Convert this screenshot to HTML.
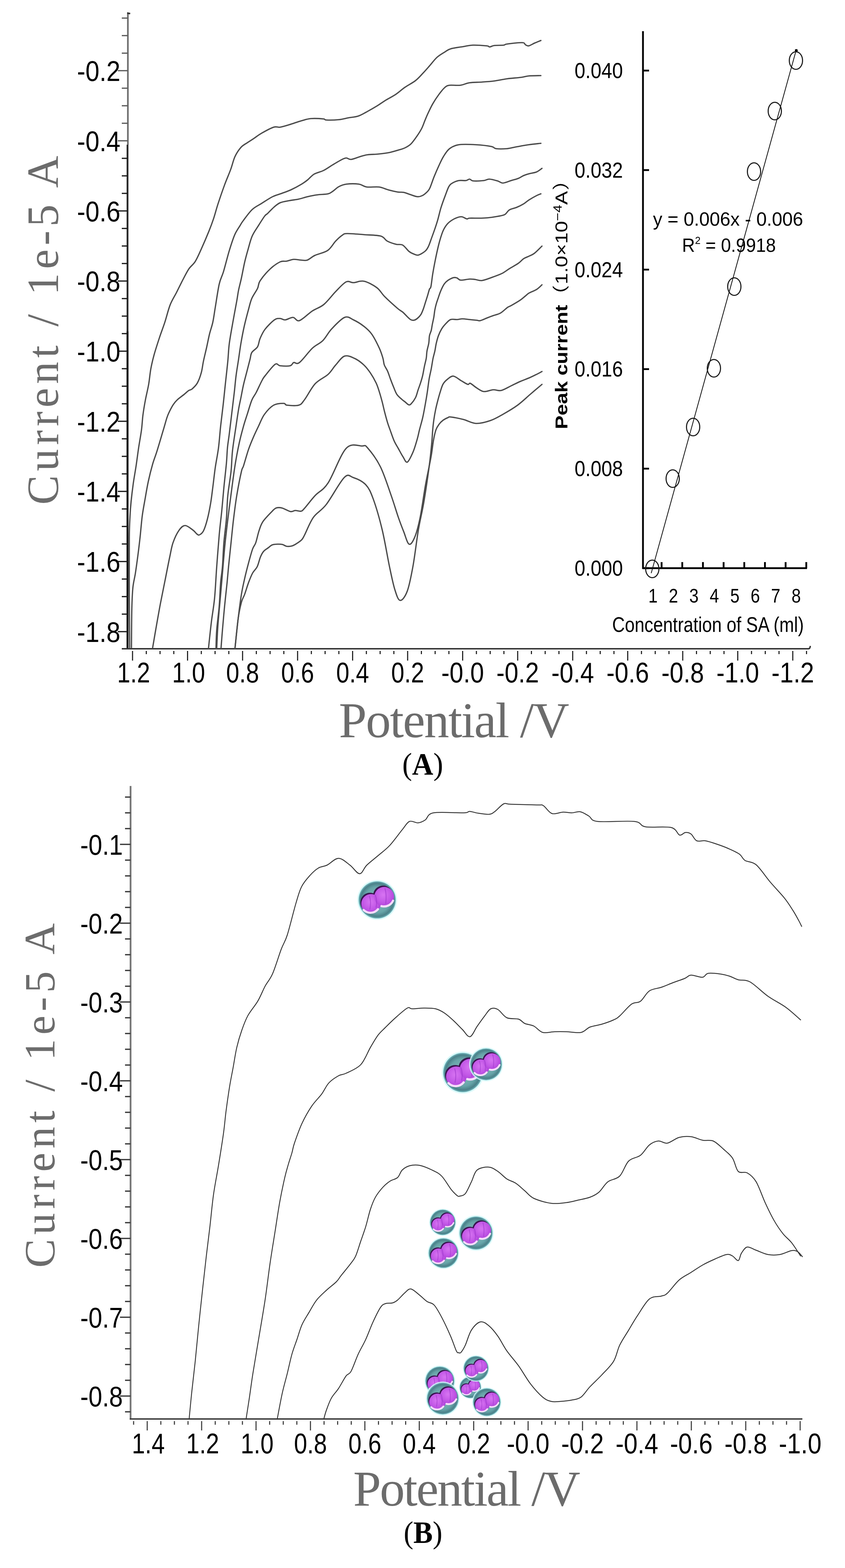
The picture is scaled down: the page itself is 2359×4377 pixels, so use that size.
<!DOCTYPE html>
<html><head><meta charset="utf-8"><title>Figure</title>
<style>html,body{margin:0;padding:0;background:#fff;} svg{display:block;}</style></head>
<body><svg width="2359" height="4377" viewBox="0 0 2359 4377">
<defs>
<radialGradient id="teal" cx="0.5" cy="0.5" r="0.5">
  <stop offset="0" stop-color="#8fc0c0"/><stop offset="0.7" stop-color="#66a4a8"/><stop offset="0.9" stop-color="#4a8088"/><stop offset="1" stop-color="#6fb6bc"/>
</radialGradient>
<radialGradient id="purp" cx="0.45" cy="0.4" r="0.65">
  <stop offset="0" stop-color="#d774f2"/><stop offset="0.6" stop-color="#c257e6"/><stop offset="1" stop-color="#ab40d6"/>
</radialGradient>
<g id="cell">
  <circle r="103" fill="#d2f8f8" opacity="0.85"/>
  <circle r="96" fill="url(#teal)"/>
  <g fill="#3a1450">
    <circle cx="-37" cy="13" r="50"/><circle cx="30" cy="-23" r="51"/>
  </g>
  <g fill="url(#purp)">
    <circle cx="-32" cy="20" r="50"/><circle cx="36" cy="-16" r="51"/>
  </g>
  <g fill="none" stroke="#f8dcfc" stroke-width="11" stroke-linecap="round">
    <path d="M -70 52 A 50 50 0 0 0 4 48"/>
    <path d="M 22 32 A 51 51 0 0 0 82 4"/>
  </g>
  <g fill="none" stroke="#9a34c8" stroke-width="5" opacity="0.55">
    <path d="M -10 -26 Q 2 4 -6 40"/><path d="M -40 -20 Q -30 10 -38 50"/><path d="M 40 -60 Q 50 -28 44 20"/>
  </g>
</g>
</defs>
<rect width="2359" height="4377" fill="#fff"/>
<line x1="357" y1="36" x2="357" y2="404" stroke="#6e6e6e" stroke-width="4.6"/>
<path d="M355,34 L364,36 L363,40 L355,39 Z" fill="#333"/>
<line x1="356" y1="404" x2="356" y2="925" stroke="#262626" stroke-width="5"/>
<line x1="356" y1="925" x2="356" y2="1812" stroke="#111" stroke-width="5.5"/>
<line x1="340" y1="50.5" x2="356.5" y2="50.5" stroke="#5a5a5a" stroke-width="3.4"/>
<line x1="340" y1="99.4" x2="356.5" y2="99.4" stroke="#5a5a5a" stroke-width="3.4"/>
<line x1="340" y1="148.4" x2="356.5" y2="148.4" stroke="#5a5a5a" stroke-width="3.4"/>
<line x1="329" y1="197.3" x2="356.5" y2="197.3" stroke="#5a5a5a" stroke-width="3.4"/>
<line x1="340" y1="246.2" x2="356.5" y2="246.2" stroke="#5a5a5a" stroke-width="3.4"/>
<line x1="340" y1="295.2" x2="356.5" y2="295.2" stroke="#5a5a5a" stroke-width="3.4"/>
<line x1="340" y1="344.1" x2="356.5" y2="344.1" stroke="#5a5a5a" stroke-width="3.4"/>
<line x1="329" y1="393.0" x2="356.5" y2="393.0" stroke="#5a5a5a" stroke-width="3.4"/>
<line x1="340" y1="442.0" x2="356.5" y2="442.0" stroke="#1a1a1a" stroke-width="3.4"/>
<line x1="340" y1="490.9" x2="356.5" y2="490.9" stroke="#1a1a1a" stroke-width="3.4"/>
<line x1="340" y1="539.8" x2="356.5" y2="539.8" stroke="#1a1a1a" stroke-width="3.4"/>
<line x1="329" y1="588.8" x2="356.5" y2="588.8" stroke="#1a1a1a" stroke-width="3.4"/>
<line x1="340" y1="637.7" x2="356.5" y2="637.7" stroke="#1a1a1a" stroke-width="3.4"/>
<line x1="340" y1="686.7" x2="356.5" y2="686.7" stroke="#1a1a1a" stroke-width="3.4"/>
<line x1="340" y1="735.6" x2="356.5" y2="735.6" stroke="#1a1a1a" stroke-width="3.4"/>
<line x1="329" y1="784.5" x2="356.5" y2="784.5" stroke="#1a1a1a" stroke-width="3.4"/>
<line x1="340" y1="833.5" x2="356.5" y2="833.5" stroke="#1a1a1a" stroke-width="3.4"/>
<line x1="340" y1="882.4" x2="356.5" y2="882.4" stroke="#1a1a1a" stroke-width="3.4"/>
<line x1="340" y1="931.3" x2="356.5" y2="931.3" stroke="#1a1a1a" stroke-width="3.4"/>
<line x1="329" y1="980.3" x2="356.5" y2="980.3" stroke="#1a1a1a" stroke-width="3.4"/>
<line x1="340" y1="1029.2" x2="356.5" y2="1029.2" stroke="#1a1a1a" stroke-width="3.4"/>
<line x1="340" y1="1078.1" x2="356.5" y2="1078.1" stroke="#1a1a1a" stroke-width="3.4"/>
<line x1="340" y1="1127.1" x2="356.5" y2="1127.1" stroke="#1a1a1a" stroke-width="3.4"/>
<line x1="329" y1="1176.0" x2="356.5" y2="1176.0" stroke="#1a1a1a" stroke-width="3.4"/>
<line x1="340" y1="1224.9" x2="356.5" y2="1224.9" stroke="#1a1a1a" stroke-width="3.4"/>
<line x1="340" y1="1273.9" x2="356.5" y2="1273.9" stroke="#1a1a1a" stroke-width="3.4"/>
<line x1="340" y1="1322.8" x2="356.5" y2="1322.8" stroke="#1a1a1a" stroke-width="3.4"/>
<line x1="329" y1="1371.7" x2="356.5" y2="1371.7" stroke="#1a1a1a" stroke-width="3.4"/>
<line x1="340" y1="1420.7" x2="356.5" y2="1420.7" stroke="#1a1a1a" stroke-width="3.4"/>
<line x1="340" y1="1469.6" x2="356.5" y2="1469.6" stroke="#1a1a1a" stroke-width="3.4"/>
<line x1="340" y1="1518.5" x2="356.5" y2="1518.5" stroke="#1a1a1a" stroke-width="3.4"/>
<line x1="329" y1="1567.5" x2="356.5" y2="1567.5" stroke="#1a1a1a" stroke-width="3.4"/>
<line x1="340" y1="1616.4" x2="356.5" y2="1616.4" stroke="#1a1a1a" stroke-width="3.4"/>
<line x1="340" y1="1665.4" x2="356.5" y2="1665.4" stroke="#1a1a1a" stroke-width="3.4"/>
<line x1="340" y1="1714.3" x2="356.5" y2="1714.3" stroke="#1a1a1a" stroke-width="3.4"/>
<line x1="329" y1="1763.2" x2="356.5" y2="1763.2" stroke="#1a1a1a" stroke-width="3.4"/>
<text x="215.0" y="226.0" font-family="'Liberation Sans', Arial, sans-serif" font-size="80" font-weight="normal" fill="#000" text-anchor="start" textLength="121.0" lengthAdjust="spacingAndGlyphs" >-0.2</text>
<text x="215.0" y="421.7" font-family="'Liberation Sans', Arial, sans-serif" font-size="80" font-weight="normal" fill="#000" text-anchor="start" textLength="121.0" lengthAdjust="spacingAndGlyphs" >-0.4</text>
<text x="215.0" y="617.5" font-family="'Liberation Sans', Arial, sans-serif" font-size="80" font-weight="normal" fill="#000" text-anchor="start" textLength="121.0" lengthAdjust="spacingAndGlyphs" >-0.6</text>
<text x="215.0" y="813.2" font-family="'Liberation Sans', Arial, sans-serif" font-size="80" font-weight="normal" fill="#000" text-anchor="start" textLength="121.0" lengthAdjust="spacingAndGlyphs" >-0.8</text>
<text x="215.0" y="1009.0" font-family="'Liberation Sans', Arial, sans-serif" font-size="80" font-weight="normal" fill="#000" text-anchor="start" textLength="121.0" lengthAdjust="spacingAndGlyphs" >-1.0</text>
<text x="215.0" y="1204.7" font-family="'Liberation Sans', Arial, sans-serif" font-size="80" font-weight="normal" fill="#000" text-anchor="start" textLength="121.0" lengthAdjust="spacingAndGlyphs" >-1.2</text>
<text x="215.0" y="1400.4" font-family="'Liberation Sans', Arial, sans-serif" font-size="80" font-weight="normal" fill="#000" text-anchor="start" textLength="121.0" lengthAdjust="spacingAndGlyphs" >-1.4</text>
<text x="215.0" y="1596.2" font-family="'Liberation Sans', Arial, sans-serif" font-size="80" font-weight="normal" fill="#000" text-anchor="start" textLength="121.0" lengthAdjust="spacingAndGlyphs" >-1.6</text>
<text x="215.0" y="1791.9" font-family="'Liberation Sans', Arial, sans-serif" font-size="80" font-weight="normal" fill="#000" text-anchor="start" textLength="121.0" lengthAdjust="spacingAndGlyphs" >-1.8</text>
<line x1="340" y1="1811" x2="2258" y2="1811" stroke="#333" stroke-width="4"/>
<path d="M2256,1811 Q2262,1811 2262,1803" fill="none" stroke="#333" stroke-width="4"/>
<line x1="370.0" y1="1817" x2="370.0" y2="1844" stroke="#1a1a1a" stroke-width="3"/>
<line x1="408.4" y1="1817" x2="408.4" y2="1826" stroke="#1a1a1a" stroke-width="3"/>
<line x1="446.8" y1="1817" x2="446.8" y2="1826" stroke="#1a1a1a" stroke-width="3"/>
<line x1="485.2" y1="1817" x2="485.2" y2="1826" stroke="#1a1a1a" stroke-width="3"/>
<line x1="523.6" y1="1817" x2="523.6" y2="1844" stroke="#1a1a1a" stroke-width="3"/>
<line x1="562.0" y1="1817" x2="562.0" y2="1826" stroke="#1a1a1a" stroke-width="3"/>
<line x1="600.4" y1="1817" x2="600.4" y2="1826" stroke="#1a1a1a" stroke-width="3"/>
<line x1="638.8" y1="1817" x2="638.8" y2="1826" stroke="#1a1a1a" stroke-width="3"/>
<line x1="677.2" y1="1817" x2="677.2" y2="1844" stroke="#1a1a1a" stroke-width="3"/>
<line x1="715.6" y1="1817" x2="715.6" y2="1826" stroke="#1a1a1a" stroke-width="3"/>
<line x1="754.0" y1="1817" x2="754.0" y2="1826" stroke="#1a1a1a" stroke-width="3"/>
<line x1="792.4" y1="1817" x2="792.4" y2="1826" stroke="#1a1a1a" stroke-width="3"/>
<line x1="830.8" y1="1817" x2="830.8" y2="1844" stroke="#1a1a1a" stroke-width="3"/>
<line x1="869.2" y1="1817" x2="869.2" y2="1826" stroke="#1a1a1a" stroke-width="3"/>
<line x1="907.6" y1="1817" x2="907.6" y2="1826" stroke="#1a1a1a" stroke-width="3"/>
<line x1="946.0" y1="1817" x2="946.0" y2="1826" stroke="#1a1a1a" stroke-width="3"/>
<line x1="984.4" y1="1817" x2="984.4" y2="1844" stroke="#1a1a1a" stroke-width="3"/>
<line x1="1022.8" y1="1817" x2="1022.8" y2="1826" stroke="#1a1a1a" stroke-width="3"/>
<line x1="1061.2" y1="1817" x2="1061.2" y2="1826" stroke="#1a1a1a" stroke-width="3"/>
<line x1="1099.6" y1="1817" x2="1099.6" y2="1826" stroke="#1a1a1a" stroke-width="3"/>
<line x1="1138.0" y1="1817" x2="1138.0" y2="1844" stroke="#1a1a1a" stroke-width="3"/>
<line x1="1176.4" y1="1817" x2="1176.4" y2="1826" stroke="#1a1a1a" stroke-width="3"/>
<line x1="1214.8" y1="1817" x2="1214.8" y2="1826" stroke="#1a1a1a" stroke-width="3"/>
<line x1="1253.2" y1="1817" x2="1253.2" y2="1826" stroke="#1a1a1a" stroke-width="3"/>
<line x1="1291.6" y1="1817" x2="1291.6" y2="1844" stroke="#1a1a1a" stroke-width="3"/>
<line x1="1330.0" y1="1817" x2="1330.0" y2="1826" stroke="#1a1a1a" stroke-width="3"/>
<line x1="1368.4" y1="1817" x2="1368.4" y2="1826" stroke="#1a1a1a" stroke-width="3"/>
<line x1="1406.8" y1="1817" x2="1406.8" y2="1826" stroke="#1a1a1a" stroke-width="3"/>
<line x1="1445.2" y1="1817" x2="1445.2" y2="1844" stroke="#1a1a1a" stroke-width="3"/>
<line x1="1483.6" y1="1817" x2="1483.6" y2="1826" stroke="#1a1a1a" stroke-width="3"/>
<line x1="1522.0" y1="1817" x2="1522.0" y2="1826" stroke="#1a1a1a" stroke-width="3"/>
<line x1="1560.4" y1="1817" x2="1560.4" y2="1826" stroke="#1a1a1a" stroke-width="3"/>
<line x1="1598.8" y1="1817" x2="1598.8" y2="1844" stroke="#1a1a1a" stroke-width="3"/>
<line x1="1637.2" y1="1817" x2="1637.2" y2="1826" stroke="#1a1a1a" stroke-width="3"/>
<line x1="1675.6" y1="1817" x2="1675.6" y2="1826" stroke="#1a1a1a" stroke-width="3"/>
<line x1="1714.0" y1="1817" x2="1714.0" y2="1826" stroke="#1a1a1a" stroke-width="3"/>
<line x1="1752.4" y1="1817" x2="1752.4" y2="1844" stroke="#1a1a1a" stroke-width="3"/>
<line x1="1790.8" y1="1817" x2="1790.8" y2="1826" stroke="#1a1a1a" stroke-width="3"/>
<line x1="1829.2" y1="1817" x2="1829.2" y2="1826" stroke="#1a1a1a" stroke-width="3"/>
<line x1="1867.6" y1="1817" x2="1867.6" y2="1826" stroke="#1a1a1a" stroke-width="3"/>
<line x1="1906.0" y1="1817" x2="1906.0" y2="1844" stroke="#1a1a1a" stroke-width="3"/>
<line x1="1944.4" y1="1817" x2="1944.4" y2="1826" stroke="#1a1a1a" stroke-width="3"/>
<line x1="1982.8" y1="1817" x2="1982.8" y2="1826" stroke="#1a1a1a" stroke-width="3"/>
<line x1="2021.2" y1="1817" x2="2021.2" y2="1826" stroke="#1a1a1a" stroke-width="3"/>
<line x1="2059.6" y1="1817" x2="2059.6" y2="1844" stroke="#1a1a1a" stroke-width="3"/>
<line x1="2098.0" y1="1817" x2="2098.0" y2="1826" stroke="#1a1a1a" stroke-width="3"/>
<line x1="2136.4" y1="1817" x2="2136.4" y2="1826" stroke="#1a1a1a" stroke-width="3"/>
<line x1="2174.8" y1="1817" x2="2174.8" y2="1826" stroke="#1a1a1a" stroke-width="3"/>
<line x1="2213.2" y1="1817" x2="2213.2" y2="1844" stroke="#1a1a1a" stroke-width="3"/>
<line x1="2251.6" y1="1817" x2="2251.6" y2="1826" stroke="#1a1a1a" stroke-width="3"/>
<text x="327.0" y="1905.0" font-family="'Liberation Sans', Arial, sans-serif" font-size="80" font-weight="normal" fill="#000" text-anchor="start" textLength="92.0" lengthAdjust="spacingAndGlyphs" >1.2</text>
<text x="480.6" y="1905.0" font-family="'Liberation Sans', Arial, sans-serif" font-size="80" font-weight="normal" fill="#000" text-anchor="start" textLength="92.0" lengthAdjust="spacingAndGlyphs" >1.0</text>
<text x="631.2" y="1905.0" font-family="'Liberation Sans', Arial, sans-serif" font-size="80" font-weight="normal" fill="#000" text-anchor="start" textLength="92.0" lengthAdjust="spacingAndGlyphs" >0.8</text>
<text x="784.8" y="1905.0" font-family="'Liberation Sans', Arial, sans-serif" font-size="80" font-weight="normal" fill="#000" text-anchor="start" textLength="92.0" lengthAdjust="spacingAndGlyphs" >0.6</text>
<text x="938.4" y="1905.0" font-family="'Liberation Sans', Arial, sans-serif" font-size="80" font-weight="normal" fill="#000" text-anchor="start" textLength="92.0" lengthAdjust="spacingAndGlyphs" >0.4</text>
<text x="1092.0" y="1905.0" font-family="'Liberation Sans', Arial, sans-serif" font-size="80" font-weight="normal" fill="#000" text-anchor="start" textLength="92.0" lengthAdjust="spacingAndGlyphs" >0.2</text>
<text x="1232.1" y="1905.0" font-family="'Liberation Sans', Arial, sans-serif" font-size="80" font-weight="normal" fill="#000" text-anchor="start" textLength="119.0" lengthAdjust="spacingAndGlyphs" >-0.0</text>
<text x="1385.7" y="1905.0" font-family="'Liberation Sans', Arial, sans-serif" font-size="80" font-weight="normal" fill="#000" text-anchor="start" textLength="119.0" lengthAdjust="spacingAndGlyphs" >-0.2</text>
<text x="1539.3" y="1905.0" font-family="'Liberation Sans', Arial, sans-serif" font-size="80" font-weight="normal" fill="#000" text-anchor="start" textLength="119.0" lengthAdjust="spacingAndGlyphs" >-0.4</text>
<text x="1692.9" y="1905.0" font-family="'Liberation Sans', Arial, sans-serif" font-size="80" font-weight="normal" fill="#000" text-anchor="start" textLength="119.0" lengthAdjust="spacingAndGlyphs" >-0.6</text>
<text x="1846.5" y="1905.0" font-family="'Liberation Sans', Arial, sans-serif" font-size="80" font-weight="normal" fill="#000" text-anchor="start" textLength="119.0" lengthAdjust="spacingAndGlyphs" >-0.8</text>
<text x="2000.1" y="1905.0" font-family="'Liberation Sans', Arial, sans-serif" font-size="80" font-weight="normal" fill="#000" text-anchor="start" textLength="119.0" lengthAdjust="spacingAndGlyphs" >-1.0</text>
<text x="2153.7" y="1905.0" font-family="'Liberation Sans', Arial, sans-serif" font-size="80" font-weight="normal" fill="#000" text-anchor="start" textLength="119.0" lengthAdjust="spacingAndGlyphs" >-1.2</text>
<text x="946.0" y="2058.0" font-family="'Liberation Serif', 'Times New Roman', serif" font-size="140" font-weight="normal" fill="#6c6c6c" text-anchor="start" textLength="643.0" lengthAdjust="spacing" >Potential /V</text>
<text transform="translate(162,1409) rotate(-90)" x="0" y="0" font-family="'Liberation Serif', 'Times New Roman', serif" font-size="124" fill="#6c6c6c" textLength="974" lengthAdjust="spacing">Current / 1e-5 A</text>
<text x="1123" y="2162" font-family="'Liberation Serif', 'Times New Roman', serif" font-size="86" fill="#000" textLength="114" lengthAdjust="spacingAndGlyphs">(<tspan font-weight="bold">A</tspan>)</text>
<path d="M362.0,1808.0 C361.8,1781.7 361.2,1701.3 361.0,1650.0 C360.8,1598.7 360.7,1535.0 361.0,1500.0 C361.3,1465.0 362.2,1456.7 363.0,1440.0 C363.8,1423.3 364.5,1415.0 366.0,1400.0 C367.5,1385.0 369.7,1366.7 372.0,1350.0 C374.3,1333.3 377.5,1316.7 380.0,1300.0 C382.5,1283.3 384.5,1266.7 387.0,1250.0 C389.5,1233.3 393.0,1215.2 395.0,1200.0 C397.0,1184.8 397.2,1173.0 399.0,1159.0 C400.8,1145.0 403.3,1130.3 406.0,1116.0 C408.7,1101.7 412.5,1087.3 415.0,1073.0 C417.5,1058.7 418.5,1043.7 421.0,1030.0 C423.5,1016.3 426.0,1005.5 430.0,991.0 C434.0,976.5 440.0,958.2 445.0,943.0 C450.0,927.8 455.0,915.3 460.0,900.0 C465.0,884.7 469.5,865.0 475.0,851.0 C480.5,837.0 487.2,827.5 493.0,816.0 C498.8,804.5 504.3,792.8 510.0,782.0 C515.7,771.2 521.2,759.7 527.0,751.0 C532.8,742.3 539.2,739.3 545.0,730.0 C550.8,720.7 555.7,709.0 562.0,695.0 C568.3,681.0 577.3,660.0 583.0,646.0 C588.7,632.0 591.7,624.0 596.0,611.0 C600.3,598.0 603.8,583.8 609.0,568.0 C614.2,552.2 621.2,531.8 627.0,516.0 C632.8,500.2 639.2,486.2 644.0,473.0 C648.8,459.8 651.2,447.3 656.0,437.0 C660.8,426.7 667.2,417.5 673.0,411.0 C678.8,404.5 685.2,402.0 691.0,398.0 C696.8,394.0 701.5,391.3 708.0,387.0 C714.5,382.7 720.7,377.3 730.0,372.0 C739.3,366.7 755.3,357.8 764.0,355.0 C772.7,352.2 774.7,356.2 782.0,355.0 C789.3,353.8 798.0,351.0 808.0,348.0 C818.0,345.0 832.0,339.8 842.0,337.0 C852.0,334.2 857.8,331.8 868.0,331.0 C878.2,330.2 895.8,331.3 903.0,332.0 C910.2,332.7 903.8,334.7 911.0,335.0 C918.2,335.3 935.8,335.0 946.0,334.0 C956.2,333.0 963.0,330.7 972.0,329.0 C981.0,327.3 991.0,327.0 1000.0,324.0 C1009.0,321.0 1017.3,315.7 1026.0,311.0 C1034.7,306.3 1043.3,301.3 1052.0,296.0 C1060.7,290.7 1069.3,284.3 1078.0,279.0 C1086.7,273.7 1095.3,269.8 1104.0,264.0 C1112.7,258.2 1120.7,250.5 1130.0,244.0 C1139.3,237.5 1151.3,231.8 1160.0,225.0 C1168.7,218.2 1175.5,209.8 1182.0,203.0 C1188.5,196.2 1192.7,191.2 1199.0,184.0 C1205.3,176.8 1212.8,166.5 1220.0,160.0 C1227.2,153.5 1235.5,149.0 1242.0,145.0 C1248.5,141.0 1250.3,138.5 1259.0,136.0 C1267.7,133.5 1283.8,131.7 1294.0,130.0 C1304.2,128.3 1309.2,126.3 1320.0,126.0 C1330.8,125.7 1351.2,127.2 1359.0,128.0 C1366.8,128.8 1363.5,131.2 1367.0,131.0 C1370.5,130.8 1373.5,127.8 1380.0,127.0 C1386.5,126.2 1400.2,126.7 1406.0,126.0 C1411.8,125.3 1406.3,124.2 1415.0,123.0 C1423.7,121.8 1449.3,118.7 1458.0,119.0 C1466.7,119.3 1464.0,123.5 1467.0,125.0 C1470.0,126.5 1471.7,128.8 1476.0,128.0 C1480.3,127.2 1487.3,122.5 1493.0,120.0 C1498.7,117.5 1507.2,114.2 1510.0,113.0" fill="none" stroke="#4a4a4a" stroke-width="3.6" stroke-linejoin="round" stroke-linecap="round"/>
<path d="M367.0,1808.0 C367.2,1790.0 367.3,1728.0 368.0,1700.0 C368.7,1672.0 369.3,1656.7 371.0,1640.0 C372.7,1623.3 375.7,1615.0 378.0,1600.0 C380.3,1585.0 382.8,1566.7 385.0,1550.0 C387.2,1533.3 389.0,1518.2 391.0,1500.0 C393.0,1481.8 394.7,1458.8 397.0,1441.0 C399.3,1423.2 402.2,1409.2 405.0,1393.0 C407.8,1376.8 410.5,1360.2 414.0,1344.0 C417.5,1327.8 422.0,1310.0 426.0,1296.0 C430.0,1282.0 433.0,1276.0 438.0,1260.0 C443.0,1244.0 451.3,1215.7 456.0,1200.0 C460.7,1184.3 463.2,1174.5 466.0,1166.0 C468.8,1157.5 470.0,1155.2 473.0,1149.0 C476.0,1142.8 480.3,1134.5 484.0,1129.0 C487.7,1123.5 490.0,1120.7 495.0,1116.0 C500.0,1111.3 508.7,1105.3 514.0,1101.0 C519.3,1096.7 523.3,1092.5 527.0,1090.0 C530.7,1087.5 532.0,1089.5 536.0,1086.0 C540.0,1082.5 546.7,1076.7 551.0,1069.0 C555.3,1061.3 559.2,1050.2 562.0,1040.0 C564.8,1029.8 565.5,1019.8 568.0,1008.0 C570.5,996.2 574.2,981.7 577.0,969.0 C579.8,956.3 582.2,943.5 585.0,932.0 C587.8,920.5 591.3,912.3 594.0,900.0 C596.7,887.7 598.0,875.8 601.0,858.0 C604.0,840.2 608.2,809.7 612.0,793.0 C615.8,776.3 619.3,773.5 624.0,758.0 C628.7,742.5 634.8,717.0 640.0,700.0 C645.2,683.0 650.0,667.7 655.0,656.0 C660.0,644.3 666.0,636.7 670.0,630.0 C674.0,623.3 673.3,623.5 679.0,616.0 C684.7,608.5 695.5,593.0 704.0,585.0 C712.5,577.0 720.5,574.0 730.0,568.0 C739.5,562.0 751.7,553.7 761.0,549.0 C770.3,544.3 777.5,543.2 786.0,540.0 C794.5,536.8 802.7,534.3 812.0,530.0 C821.3,525.7 834.2,518.7 842.0,514.0 C849.8,509.3 853.2,506.7 859.0,502.0 C864.8,497.3 869.7,490.3 877.0,486.0 C884.3,481.7 894.3,480.3 903.0,476.0 C911.7,471.7 920.3,465.2 929.0,460.0 C937.7,454.8 948.7,448.2 955.0,445.0 C961.3,441.8 962.8,441.0 967.0,441.0 C971.2,441.0 973.5,445.7 980.0,445.0 C986.5,444.3 998.3,439.2 1006.0,437.0 C1013.7,434.8 1017.7,433.2 1026.0,432.0 C1034.3,430.8 1046.0,431.0 1056.0,430.0 C1066.0,429.0 1076.7,427.8 1086.0,426.0 C1095.3,424.2 1104.7,421.2 1112.0,419.0 C1119.3,416.8 1124.2,415.8 1130.0,413.0 C1135.8,410.2 1141.3,407.5 1147.0,402.0 C1152.7,396.5 1159.0,387.2 1164.0,380.0 C1169.0,372.8 1173.3,366.2 1177.0,359.0 C1180.7,351.8 1183.0,344.2 1186.0,337.0 C1189.0,329.8 1191.3,323.8 1195.0,316.0 C1198.7,308.2 1203.0,298.7 1208.0,290.0 C1213.0,281.3 1219.3,271.7 1225.0,264.0 C1230.7,256.3 1237.0,248.3 1242.0,244.0 C1247.0,239.7 1247.8,239.0 1255.0,238.0 C1262.2,237.0 1275.7,239.2 1285.0,238.0 C1294.3,236.8 1300.8,232.5 1311.0,231.0 C1321.2,229.5 1334.5,229.8 1346.0,229.0 C1357.5,228.2 1368.5,227.5 1380.0,226.0 C1391.5,224.5 1402.7,221.7 1415.0,220.0 C1427.3,218.3 1443.8,217.3 1454.0,216.0 C1464.2,214.7 1466.7,212.8 1476.0,212.0 C1485.3,211.2 1504.3,211.2 1510.0,211.0" fill="none" stroke="#4a4a4a" stroke-width="3.6" stroke-linejoin="round" stroke-linecap="round"/>
<path d="M426.0,1809.0 C427.8,1798.3 433.3,1765.8 437.0,1745.0 C440.7,1724.2 444.0,1705.0 448.0,1684.0 C452.0,1663.0 456.7,1640.7 461.0,1619.0 C465.3,1597.3 470.3,1571.3 474.0,1554.0 C477.7,1536.7 478.7,1527.3 483.0,1515.0 C487.3,1502.7 494.3,1488.0 500.0,1480.0 C505.7,1472.0 510.5,1467.0 517.0,1467.0 C523.5,1467.0 533.5,1476.0 539.0,1480.0 C544.5,1484.0 547.0,1488.8 550.0,1491.0 C553.0,1493.2 554.0,1494.5 557.0,1493.0 C560.0,1491.5 564.3,1489.3 568.0,1482.0 C571.7,1474.7 575.7,1461.8 579.0,1449.0 C582.3,1436.2 585.5,1419.7 588.0,1405.0 C590.5,1390.3 591.8,1377.7 594.0,1361.0 C596.2,1344.3 598.3,1323.5 601.0,1305.0 C603.7,1286.5 607.5,1269.3 610.0,1250.0 C612.5,1230.7 613.8,1209.0 616.0,1189.0 C618.2,1169.0 620.8,1149.3 623.0,1130.0 C625.2,1110.7 626.8,1093.3 629.0,1073.0 C631.2,1052.7 634.2,1026.8 636.0,1008.0 C637.8,989.2 637.7,978.0 640.0,960.0 C642.3,942.0 646.5,920.0 650.0,900.0 C653.5,880.0 658.3,855.0 661.0,840.0 C663.7,825.0 663.8,820.7 666.0,810.0 C668.2,799.3 671.2,789.0 674.0,776.0 C676.8,763.0 680.0,745.0 683.0,732.0 C686.0,719.0 688.5,710.2 692.0,698.0 C695.5,685.8 699.0,670.5 704.0,659.0 C709.0,647.5 716.2,638.3 722.0,629.0 C727.8,619.7 734.8,608.5 739.0,603.0 C743.2,597.5 742.8,600.0 747.0,596.0 C751.2,592.0 758.2,584.0 764.0,579.0 C769.8,574.0 774.7,569.2 782.0,566.0 C789.3,562.8 799.5,561.7 808.0,560.0 C816.5,558.3 824.5,557.8 833.0,556.0 C841.5,554.2 850.3,551.0 859.0,549.0 C867.7,547.0 875.5,545.3 885.0,544.0 C894.5,542.7 908.7,542.7 916.0,541.0 C923.3,539.3 924.0,537.3 929.0,534.0 C934.0,530.7 939.7,524.3 946.0,521.0 C952.3,517.7 957.7,515.2 967.0,514.0 C976.3,512.8 992.5,512.7 1002.0,514.0 C1011.5,515.3 1014.7,520.7 1024.0,522.0 C1033.3,523.3 1048.0,520.7 1058.0,522.0 C1068.0,523.3 1075.3,527.7 1084.0,530.0 C1092.7,532.3 1102.8,534.8 1110.0,536.0 C1117.2,537.2 1121.2,535.8 1127.0,537.0 C1132.8,538.2 1138.7,541.0 1145.0,543.0 C1151.3,545.0 1159.3,548.5 1165.0,549.0 C1170.7,549.5 1174.5,548.2 1179.0,546.0 C1183.5,543.8 1188.5,539.5 1192.0,536.0 C1195.5,532.5 1196.7,532.2 1200.0,525.0 C1203.3,517.8 1207.8,503.3 1212.0,493.0 C1216.2,482.7 1220.7,472.3 1225.0,463.0 C1229.3,453.7 1233.0,445.0 1238.0,437.0 C1243.0,429.0 1247.8,420.5 1255.0,415.0 C1262.2,409.5 1268.7,405.8 1281.0,404.0 C1293.3,402.2 1313.8,403.2 1329.0,404.0 C1344.2,404.8 1362.7,407.2 1372.0,409.0 C1381.3,410.8 1377.8,414.0 1385.0,415.0 C1392.2,416.0 1405.7,415.8 1415.0,415.0 C1424.3,414.2 1430.8,411.8 1441.0,410.0 C1451.2,408.2 1464.5,405.7 1476.0,404.0 C1487.5,402.3 1504.3,400.7 1510.0,400.0" fill="none" stroke="#4a4a4a" stroke-width="3.6" stroke-linejoin="round" stroke-linecap="round"/>
<path d="M582.0,1810.0 C583.3,1797.8 587.2,1760.3 590.0,1737.0 C592.8,1713.7 596.5,1695.8 599.0,1670.0 C601.5,1644.2 602.8,1611.5 605.0,1582.0 C607.2,1552.5 609.7,1518.8 612.0,1493.0 C614.3,1467.2 616.8,1449.0 619.0,1427.0 C621.2,1405.0 622.8,1383.2 625.0,1361.0 C627.2,1338.8 630.3,1312.5 632.0,1294.0 C633.7,1275.5 633.7,1263.7 635.0,1250.0 C636.3,1236.3 638.0,1228.0 640.0,1212.0 C642.0,1196.0 644.7,1173.3 647.0,1154.0 C649.3,1134.7 652.0,1113.5 654.0,1096.0 C656.0,1078.5 657.0,1064.5 659.0,1049.0 C661.0,1033.5 663.7,1018.5 666.0,1003.0 C668.3,987.5 670.3,971.5 673.0,956.0 C675.7,940.5 678.5,925.5 682.0,910.0 C685.5,894.5 690.5,875.8 694.0,863.0 C697.5,850.2 698.8,842.7 703.0,833.0 C707.2,823.3 715.2,813.2 719.0,805.0 C722.8,796.8 720.2,793.0 726.0,784.0 C731.8,775.0 744.7,759.8 754.0,751.0 C763.3,742.2 774.3,734.7 782.0,731.0 C789.7,727.3 793.7,730.2 800.0,729.0 C806.3,727.8 813.3,724.5 820.0,724.0 C826.7,723.5 833.7,725.7 840.0,726.0 C846.3,726.3 851.5,728.2 858.0,726.0 C864.5,723.8 869.5,717.5 879.0,713.0 C888.5,708.5 905.3,705.7 915.0,699.0 C924.7,692.3 930.3,680.0 937.0,673.0 C943.7,666.0 949.7,660.5 955.0,657.0 C960.3,653.5 958.8,652.3 969.0,652.0 C979.2,651.7 1000.3,653.8 1016.0,655.0 C1031.7,656.2 1052.2,656.0 1063.0,659.0 C1073.8,662.0 1073.8,669.2 1081.0,673.0 C1088.2,676.8 1098.8,680.2 1106.0,682.0 C1113.2,683.8 1118.0,680.7 1124.0,684.0 C1130.0,687.3 1136.8,697.8 1142.0,702.0 C1147.2,706.2 1150.7,707.3 1155.0,709.0 C1159.3,710.7 1162.7,713.3 1168.0,712.0 C1173.3,710.7 1182.3,705.0 1187.0,701.0 C1191.7,697.0 1193.0,694.2 1196.0,688.0 C1199.0,681.8 1201.8,672.7 1205.0,664.0 C1208.2,655.3 1212.2,644.3 1215.0,636.0 C1217.8,627.7 1219.3,623.3 1222.0,614.0 C1224.7,604.7 1227.5,591.3 1231.0,580.0 C1234.5,568.7 1239.3,555.8 1243.0,546.0 C1246.7,536.2 1249.7,526.8 1253.0,521.0 C1256.3,515.2 1258.3,513.8 1263.0,511.0 C1267.7,508.2 1274.7,505.2 1281.0,504.0 C1287.3,502.8 1296.0,504.7 1301.0,504.0 C1306.0,503.3 1307.7,499.8 1311.0,500.0 C1314.3,500.2 1314.3,504.3 1321.0,505.0 C1327.7,505.7 1343.5,504.8 1351.0,504.0 C1358.5,503.2 1359.7,499.8 1366.0,500.0 C1372.3,500.2 1382.7,503.2 1389.0,505.0 C1395.3,506.8 1397.7,511.2 1404.0,511.0 C1410.3,510.8 1419.8,506.2 1427.0,504.0 C1434.2,501.8 1441.2,500.3 1447.0,498.0 C1452.8,495.7 1457.0,492.2 1462.0,490.0 C1467.0,487.8 1471.0,486.7 1477.0,485.0 C1483.0,483.3 1492.0,482.5 1498.0,480.0 C1504.0,477.5 1510.5,471.7 1513.0,470.0" fill="none" stroke="#4a4a4a" stroke-width="3.6" stroke-linejoin="round" stroke-linecap="round"/>
<path d="M603.0,1810.0 C603.3,1801.5 603.5,1778.7 605.0,1759.0 C606.5,1739.3 610.2,1714.2 612.0,1692.0 C613.8,1669.8 614.5,1644.3 616.0,1626.0 C617.5,1607.7 619.5,1600.5 621.0,1582.0 C622.5,1563.5 623.2,1537.2 625.0,1515.0 C626.8,1492.8 630.2,1471.0 632.0,1449.0 C633.8,1427.0 633.8,1405.2 636.0,1383.0 C638.2,1360.8 642.8,1336.7 645.0,1316.0 C647.2,1295.3 646.7,1280.2 649.0,1259.0 C651.3,1237.8 656.2,1208.3 659.0,1189.0 C661.8,1169.7 663.7,1156.5 666.0,1143.0 C668.3,1129.5 670.7,1119.7 673.0,1108.0 C675.3,1096.3 677.3,1084.7 680.0,1073.0 C682.7,1061.3 686.0,1049.7 689.0,1038.0 C692.0,1026.3 695.7,1012.0 698.0,1003.0 C700.3,994.0 699.5,989.8 703.0,984.0 C706.5,978.2 715.2,974.5 719.0,968.0 C722.8,961.5 722.5,953.2 726.0,945.0 C729.5,936.8 733.3,927.7 740.0,919.0 C746.7,910.3 759.0,898.0 766.0,893.0 C773.0,888.0 777.0,889.0 782.0,889.0 C787.0,889.0 790.0,893.5 796.0,893.0 C802.0,892.5 811.3,885.7 818.0,886.0 C824.7,886.3 827.0,898.0 836.0,895.0 C845.0,892.0 860.7,875.5 872.0,868.0 C883.3,860.5 893.2,859.0 904.0,850.0 C914.8,841.0 926.7,824.5 937.0,814.0 C947.3,803.5 957.7,791.2 966.0,787.0 C974.3,782.8 978.7,789.3 987.0,789.0 C995.3,788.7 1005.2,782.7 1016.0,785.0 C1026.8,787.3 1042.3,795.8 1052.0,803.0 C1061.7,810.2 1064.3,818.3 1074.0,828.0 C1083.7,837.7 1101.7,853.8 1110.0,861.0 C1118.3,868.2 1119.5,867.2 1124.0,871.0 C1128.5,874.8 1133.3,880.5 1137.0,884.0 C1140.7,887.5 1143.0,890.3 1146.0,892.0 C1149.0,893.7 1151.8,894.5 1155.0,894.0 C1158.2,893.5 1161.7,891.7 1165.0,889.0 C1168.3,886.3 1172.2,882.5 1175.0,878.0 C1177.8,873.5 1179.8,867.8 1182.0,862.0 C1184.2,856.2 1186.0,849.3 1188.0,843.0 C1190.0,836.7 1192.2,830.0 1194.0,824.0 C1195.8,818.0 1197.5,811.0 1199.0,807.0 C1200.5,803.0 1201.5,807.0 1203.0,800.0 C1204.5,793.0 1206.0,777.2 1208.0,765.0 C1210.0,752.8 1212.5,739.5 1215.0,727.0 C1217.5,714.5 1220.5,700.5 1223.0,690.0 C1225.5,679.5 1227.5,672.0 1230.0,664.0 C1232.5,656.0 1234.7,648.7 1238.0,642.0 C1241.3,635.3 1245.0,629.2 1250.0,624.0 C1255.0,618.8 1261.7,614.2 1268.0,611.0 C1274.3,607.8 1282.2,605.0 1288.0,605.0 C1293.8,605.0 1299.2,610.3 1303.0,611.0 C1306.8,611.7 1304.7,609.3 1311.0,609.0 C1317.3,608.7 1332.7,609.2 1341.0,609.0 C1349.3,608.8 1353.0,608.8 1361.0,608.0 C1369.0,607.2 1381.0,605.5 1389.0,604.0 C1397.0,602.5 1403.5,602.0 1409.0,599.0 C1414.5,596.0 1416.5,589.3 1422.0,586.0 C1427.5,582.7 1435.3,581.8 1442.0,579.0 C1448.7,576.2 1456.2,572.5 1462.0,569.0 C1467.8,565.5 1471.0,561.8 1477.0,558.0 C1483.0,554.2 1492.5,548.8 1498.0,546.0 C1503.5,543.2 1508.0,541.8 1510.0,541.0" fill="none" stroke="#4a4a4a" stroke-width="3.6" stroke-linejoin="round" stroke-linecap="round"/>
<path d="M605.0,1810.0 C605.5,1800.0 606.5,1771.7 608.0,1750.0 C609.5,1728.3 611.8,1705.0 614.0,1680.0 C616.2,1655.0 618.7,1626.7 621.0,1600.0 C623.3,1573.3 625.5,1545.0 628.0,1520.0 C630.5,1495.0 633.2,1473.3 636.0,1450.0 C638.8,1426.7 641.7,1405.0 645.0,1380.0 C648.3,1355.0 652.2,1324.0 656.0,1300.0 C659.8,1276.0 664.0,1254.5 668.0,1236.0 C672.0,1217.5 676.2,1202.7 680.0,1189.0 C683.8,1175.3 687.2,1166.0 691.0,1154.0 C694.8,1142.0 699.0,1126.7 703.0,1117.0 C707.0,1107.3 710.3,1105.0 715.0,1096.0 C719.7,1087.0 726.8,1070.8 731.0,1063.0 C735.2,1055.2 733.8,1056.7 740.0,1049.0 C746.2,1041.3 761.0,1021.7 768.0,1017.0 C775.0,1012.3 775.0,1020.3 782.0,1021.0 C789.0,1021.7 803.7,1022.5 810.0,1021.0 C816.3,1019.5 815.7,1013.5 820.0,1012.0 C824.3,1010.5 827.3,1018.7 836.0,1012.0 C844.7,1005.3 861.2,982.2 872.0,972.0 C882.8,961.8 892.0,960.0 901.0,951.0 C910.0,942.0 915.8,928.8 926.0,918.0 C936.2,907.2 951.8,890.2 962.0,886.0 C972.2,881.8 978.0,888.8 987.0,893.0 C996.0,897.2 1007.5,904.3 1016.0,911.0 C1024.5,917.7 1030.8,922.8 1038.0,933.0 C1045.2,943.2 1053.8,960.8 1059.0,972.0 C1064.2,983.2 1066.7,992.2 1069.0,1000.0 C1071.3,1007.8 1070.8,1013.0 1073.0,1019.0 C1075.2,1025.0 1079.2,1029.5 1082.0,1036.0 C1084.8,1042.5 1087.2,1050.5 1090.0,1058.0 C1092.8,1065.5 1096.0,1073.8 1099.0,1081.0 C1102.0,1088.2 1104.2,1095.3 1108.0,1101.0 C1111.8,1106.7 1118.2,1111.5 1122.0,1115.0 C1125.8,1118.5 1127.8,1119.5 1131.0,1122.0 C1134.2,1124.5 1138.2,1129.2 1141.0,1130.0 C1143.8,1130.8 1144.8,1130.3 1148.0,1127.0 C1151.2,1123.7 1156.8,1116.3 1160.0,1110.0 C1163.2,1103.7 1164.7,1095.8 1167.0,1089.0 C1169.3,1082.2 1171.8,1075.8 1174.0,1069.0 C1176.2,1062.2 1178.2,1055.8 1180.0,1048.0 C1181.8,1040.2 1183.3,1030.0 1185.0,1022.0 C1186.7,1014.0 1188.8,1007.0 1190.0,1000.0 C1191.2,993.0 1190.8,987.0 1192.0,980.0 C1193.2,973.0 1195.8,965.2 1197.0,958.0 C1198.2,950.8 1197.8,943.0 1199.0,937.0 C1200.2,931.0 1202.7,927.3 1204.0,922.0 C1205.3,916.7 1205.8,911.0 1207.0,905.0 C1208.2,899.0 1209.8,892.7 1211.0,886.0 C1212.2,879.3 1212.8,871.3 1214.0,865.0 C1215.2,858.7 1216.5,853.3 1218.0,848.0 C1219.5,842.7 1221.0,838.8 1223.0,833.0 C1225.0,827.2 1227.2,819.7 1230.0,813.0 C1232.8,806.3 1236.7,798.0 1240.0,793.0 C1243.3,788.0 1245.7,786.0 1250.0,783.0 C1254.3,780.0 1261.7,776.2 1266.0,775.0 C1270.3,773.8 1272.7,774.8 1276.0,776.0 C1279.3,777.2 1280.2,781.5 1286.0,782.0 C1291.8,782.5 1304.3,779.3 1311.0,779.0 C1317.7,778.7 1320.2,779.3 1326.0,780.0 C1331.8,780.7 1337.5,784.2 1346.0,783.0 C1354.5,781.8 1367.7,776.3 1377.0,773.0 C1386.3,769.7 1394.5,766.8 1402.0,763.0 C1409.5,759.2 1414.5,754.7 1422.0,750.0 C1429.5,745.3 1440.3,739.7 1447.0,735.0 C1453.7,730.3 1457.0,725.3 1462.0,722.0 C1467.0,718.7 1472.0,717.5 1477.0,715.0 C1482.0,712.5 1486.0,711.7 1492.0,707.0 C1498.0,702.3 1509.5,690.3 1513.0,687.0" fill="none" stroke="#4a4a4a" stroke-width="3.6" stroke-linejoin="round" stroke-linecap="round"/>
<path d="M617.0,1810.0 C617.7,1801.5 619.3,1778.7 621.0,1759.0 C622.7,1739.3 624.8,1714.2 627.0,1692.0 C629.2,1669.8 632.2,1644.3 634.0,1626.0 C635.8,1607.7 636.2,1600.5 638.0,1582.0 C639.8,1563.5 642.7,1537.2 645.0,1515.0 C647.3,1492.8 649.3,1471.0 652.0,1449.0 C654.7,1427.0 657.3,1405.2 661.0,1383.0 C664.7,1360.8 670.8,1329.8 674.0,1316.0 C677.2,1302.2 676.7,1310.3 680.0,1300.0 C683.3,1289.7 689.3,1267.5 694.0,1254.0 C698.7,1240.5 703.3,1229.8 708.0,1219.0 C712.7,1208.2 717.0,1199.3 722.0,1189.0 C727.0,1178.7 731.0,1166.7 738.0,1157.0 C745.0,1147.3 755.0,1136.2 764.0,1131.0 C773.0,1125.8 785.8,1126.0 792.0,1126.0 C798.2,1126.0 794.0,1130.2 801.0,1131.0 C808.0,1131.8 825.8,1133.5 834.0,1131.0 C842.2,1128.5 842.3,1126.0 850.0,1116.0 C857.7,1106.0 869.0,1082.8 880.0,1071.0 C891.0,1059.2 906.5,1053.7 916.0,1045.0 C925.5,1036.3 929.3,1027.5 937.0,1019.0 C944.7,1010.5 953.0,997.0 962.0,994.0 C971.0,991.0 982.0,996.8 991.0,1001.0 C1000.0,1005.2 1008.8,1012.3 1016.0,1019.0 C1023.2,1025.7 1028.3,1032.7 1034.0,1041.0 C1039.7,1049.3 1045.8,1060.2 1050.0,1069.0 C1054.2,1077.8 1056.2,1085.2 1059.0,1094.0 C1061.8,1102.8 1064.5,1112.5 1067.0,1122.0 C1069.5,1131.5 1071.5,1141.3 1074.0,1151.0 C1076.5,1160.7 1079.5,1171.8 1082.0,1180.0 C1084.5,1188.2 1086.0,1191.7 1089.0,1200.0 C1092.0,1208.3 1096.2,1221.3 1100.0,1230.0 C1103.8,1238.7 1107.8,1244.5 1112.0,1252.0 C1116.2,1259.5 1120.8,1268.7 1125.0,1275.0 C1129.2,1281.3 1132.3,1292.2 1137.0,1290.0 C1141.7,1287.8 1148.3,1272.8 1153.0,1262.0 C1157.7,1251.2 1162.0,1235.3 1165.0,1225.0 C1168.0,1214.7 1168.5,1209.8 1171.0,1200.0 C1173.5,1190.2 1177.3,1177.7 1180.0,1166.0 C1182.7,1154.3 1184.8,1142.0 1187.0,1130.0 C1189.2,1118.0 1191.2,1106.0 1193.0,1094.0 C1194.8,1082.0 1196.2,1068.8 1198.0,1058.0 C1199.8,1047.2 1202.2,1038.7 1204.0,1029.0 C1205.8,1019.3 1207.3,1008.2 1209.0,1000.0 C1210.7,991.8 1212.5,987.0 1214.0,980.0 C1215.5,973.0 1216.3,965.2 1218.0,958.0 C1219.7,950.8 1221.5,943.7 1224.0,937.0 C1226.5,930.3 1229.7,923.5 1233.0,918.0 C1236.3,912.5 1239.8,908.3 1244.0,904.0 C1248.2,899.7 1252.7,894.0 1258.0,892.0 C1263.3,890.0 1270.5,892.3 1276.0,892.0 C1281.5,891.7 1285.2,890.0 1291.0,890.0 C1296.8,890.0 1304.3,891.3 1311.0,892.0 C1317.7,892.7 1326.0,893.5 1331.0,894.0 C1336.0,894.5 1336.0,896.2 1341.0,895.0 C1346.0,893.8 1355.0,889.3 1361.0,887.0 C1367.0,884.7 1371.0,883.2 1377.0,881.0 C1383.0,878.8 1390.3,877.8 1397.0,874.0 C1403.7,870.2 1412.0,861.5 1417.0,858.0 C1422.0,854.5 1421.2,856.3 1427.0,853.0 C1432.8,849.7 1445.3,842.5 1452.0,838.0 C1458.7,833.5 1462.8,829.3 1467.0,826.0 C1471.2,822.7 1471.8,821.0 1477.0,818.0 C1482.2,815.0 1492.0,811.8 1498.0,808.0 C1504.0,804.2 1510.5,797.2 1513.0,795.0" fill="none" stroke="#4a4a4a" stroke-width="3.6" stroke-linejoin="round" stroke-linecap="round"/>
<path d="M656.0,1810.0 C657.5,1796.0 662.0,1747.5 665.0,1726.0 C668.0,1704.5 671.0,1692.2 674.0,1681.0 C677.0,1669.8 679.7,1668.2 683.0,1659.0 C686.3,1649.8 690.3,1635.8 694.0,1626.0 C697.7,1616.2 701.0,1607.3 705.0,1600.0 C709.0,1592.7 714.3,1589.5 718.0,1582.0 C721.7,1574.5 724.0,1562.2 727.0,1555.0 C730.0,1547.8 732.3,1543.3 736.0,1539.0 C739.7,1534.7 745.0,1532.0 749.0,1529.0 C753.0,1526.0 755.5,1522.7 760.0,1521.0 C764.5,1519.3 771.2,1519.2 776.0,1519.0 C780.8,1518.8 785.0,1519.0 789.0,1520.0 C793.0,1521.0 795.7,1524.3 800.0,1525.0 C804.3,1525.7 810.5,1525.2 815.0,1524.0 C819.5,1522.8 822.5,1520.8 827.0,1518.0 C831.5,1515.2 838.2,1511.0 842.0,1507.0 C845.8,1503.0 844.5,1504.5 850.0,1494.0 C855.5,1483.5 864.8,1458.3 875.0,1444.0 C885.2,1429.7 896.7,1426.5 911.0,1408.0 C925.3,1389.5 948.5,1345.5 961.0,1333.0 C973.5,1320.5 976.0,1329.7 986.0,1333.0 C996.0,1336.3 1011.7,1343.0 1021.0,1353.0 C1030.3,1363.0 1034.3,1372.0 1042.0,1393.0 C1049.7,1414.0 1059.5,1447.8 1067.0,1479.0 C1074.5,1510.2 1081.2,1552.3 1087.0,1580.0 C1092.8,1607.7 1097.0,1629.0 1102.0,1645.0 C1107.0,1661.0 1111.2,1675.2 1117.0,1676.0 C1122.8,1676.8 1131.0,1666.0 1137.0,1650.0 C1143.0,1634.0 1147.8,1608.5 1153.0,1580.0 C1158.2,1551.5 1163.0,1508.5 1168.0,1479.0 C1173.0,1449.5 1178.0,1432.3 1183.0,1403.0 C1188.0,1373.7 1194.3,1330.2 1198.0,1303.0 C1201.7,1275.8 1203.3,1257.2 1205.0,1240.0 C1206.7,1222.8 1207.0,1211.2 1208.0,1200.0 C1209.0,1188.8 1209.7,1182.3 1211.0,1173.0 C1212.3,1163.7 1214.0,1153.7 1216.0,1144.0 C1218.0,1134.3 1220.8,1123.3 1223.0,1115.0 C1225.2,1106.7 1226.7,1101.2 1229.0,1094.0 C1231.3,1086.8 1233.5,1078.0 1237.0,1072.0 C1240.5,1066.0 1245.2,1061.7 1250.0,1058.0 C1254.8,1054.3 1259.7,1049.2 1266.0,1050.0 C1272.3,1050.8 1281.3,1059.2 1288.0,1063.0 C1294.7,1066.8 1301.8,1071.8 1306.0,1073.0 C1310.2,1074.2 1308.8,1068.3 1313.0,1070.0 C1317.2,1071.7 1324.7,1079.2 1331.0,1083.0 C1337.3,1086.8 1343.3,1092.2 1351.0,1093.0 C1358.7,1093.8 1369.0,1088.5 1377.0,1088.0 C1385.0,1087.5 1390.7,1091.8 1399.0,1090.0 C1407.3,1088.2 1418.2,1081.2 1427.0,1077.0 C1435.8,1072.8 1443.7,1068.7 1452.0,1065.0 C1460.3,1061.3 1469.3,1058.3 1477.0,1055.0 C1484.7,1051.7 1492.0,1048.0 1498.0,1045.0 C1504.0,1042.0 1510.5,1038.3 1513.0,1037.0" fill="none" stroke="#4a4a4a" stroke-width="3.6" stroke-linejoin="round" stroke-linecap="round"/>
<path d="M656.0,1810.0 C657.5,1796.0 662.0,1751.2 665.0,1726.0 C668.0,1700.8 671.0,1677.5 674.0,1659.0 C677.0,1640.5 679.7,1629.7 683.0,1615.0 C686.3,1600.3 690.3,1584.7 694.0,1571.0 C697.7,1557.3 701.7,1542.3 705.0,1533.0 C708.3,1523.7 711.0,1523.5 714.0,1515.0 C717.0,1506.5 719.7,1491.8 723.0,1482.0 C726.3,1472.2 727.8,1465.2 734.0,1456.0 C740.2,1446.8 753.8,1433.3 760.0,1427.0 C766.2,1420.7 766.5,1419.5 771.0,1418.0 C775.5,1416.5 780.3,1416.3 787.0,1418.0 C793.7,1419.7 804.8,1426.8 811.0,1428.0 C817.2,1429.2 819.2,1425.2 824.0,1425.0 C828.8,1424.8 835.7,1428.0 840.0,1427.0 C844.3,1426.0 843.3,1426.3 850.0,1419.0 C856.7,1411.7 869.0,1394.8 880.0,1383.0 C891.0,1371.2 901.7,1369.8 916.0,1348.0 C930.3,1326.2 950.2,1269.2 966.0,1252.0 C981.8,1234.8 1001.0,1245.3 1011.0,1245.0 C1021.0,1244.7 1017.5,1240.3 1026.0,1250.0 C1034.5,1259.7 1051.0,1280.8 1062.0,1303.0 C1073.0,1325.2 1083.7,1359.5 1092.0,1383.0 C1100.3,1406.5 1106.2,1427.2 1112.0,1444.0 C1117.8,1460.8 1122.0,1471.5 1127.0,1484.0 C1132.0,1496.5 1136.8,1516.5 1142.0,1519.0 C1147.2,1521.5 1152.8,1511.5 1158.0,1499.0 C1163.2,1486.5 1168.0,1468.3 1173.0,1444.0 C1178.0,1419.7 1183.0,1380.8 1188.0,1353.0 C1193.0,1325.2 1199.3,1297.5 1203.0,1277.0 C1206.7,1256.5 1207.7,1242.8 1210.0,1230.0 C1212.3,1217.2 1214.3,1207.7 1217.0,1200.0 C1219.7,1192.3 1222.7,1188.5 1226.0,1184.0 C1229.3,1179.5 1233.0,1176.0 1237.0,1173.0 C1241.0,1170.0 1246.5,1167.5 1250.0,1166.0 C1253.5,1164.5 1250.7,1163.2 1258.0,1164.0 C1265.3,1164.8 1282.2,1168.0 1294.0,1171.0 C1305.8,1174.0 1316.5,1181.5 1329.0,1182.0 C1341.5,1182.5 1356.3,1178.3 1369.0,1174.0 C1381.7,1169.7 1392.3,1163.2 1405.0,1156.0 C1417.7,1148.8 1432.5,1140.2 1445.0,1131.0 C1457.5,1121.8 1468.7,1110.7 1480.0,1101.0 C1491.3,1091.3 1507.5,1077.7 1513.0,1073.0" fill="none" stroke="#4a4a4a" stroke-width="3.6" stroke-linejoin="round" stroke-linecap="round"/>
<line x1="1795" y1="87" x2="1795" y2="1588" stroke="#000" stroke-width="5"/>
<line x1="1793" y1="1586" x2="2253" y2="1586" stroke="#000" stroke-width="5"/>
<line x1="1795" y1="1586.0" x2="1812" y2="1586.0" stroke="#000" stroke-width="5"/>
<text x="1604.0" y="1607.0" font-family="'Liberation Sans', 'IPAGothic', sans-serif" font-size="62" font-weight="normal" fill="#000" text-anchor="start" textLength="135.0" lengthAdjust="spacingAndGlyphs" >0.000</text>
<line x1="1795" y1="1308.2" x2="1812" y2="1308.2" stroke="#000" stroke-width="5"/>
<text x="1604.0" y="1329.2" font-family="'Liberation Sans', 'IPAGothic', sans-serif" font-size="62" font-weight="normal" fill="#000" text-anchor="start" textLength="135.0" lengthAdjust="spacingAndGlyphs" >0.008</text>
<line x1="1795" y1="1030.4" x2="1812" y2="1030.4" stroke="#000" stroke-width="5"/>
<text x="1604.0" y="1051.4" font-family="'Liberation Sans', 'IPAGothic', sans-serif" font-size="62" font-weight="normal" fill="#000" text-anchor="start" textLength="135.0" lengthAdjust="spacingAndGlyphs" >0.016</text>
<line x1="1795" y1="752.6" x2="1812" y2="752.6" stroke="#000" stroke-width="5"/>
<text x="1604.0" y="773.6" font-family="'Liberation Sans', 'IPAGothic', sans-serif" font-size="62" font-weight="normal" fill="#000" text-anchor="start" textLength="135.0" lengthAdjust="spacingAndGlyphs" >0.024</text>
<line x1="1795" y1="474.8" x2="1812" y2="474.8" stroke="#000" stroke-width="5"/>
<text x="1604.0" y="495.8" font-family="'Liberation Sans', 'IPAGothic', sans-serif" font-size="62" font-weight="normal" fill="#000" text-anchor="start" textLength="135.0" lengthAdjust="spacingAndGlyphs" >0.032</text>
<line x1="1795" y1="197.0" x2="1812" y2="197.0" stroke="#000" stroke-width="5"/>
<text x="1604.0" y="218.0" font-family="'Liberation Sans', 'IPAGothic', sans-serif" font-size="62" font-weight="normal" fill="#000" text-anchor="start" textLength="135.0" lengthAdjust="spacingAndGlyphs" >0.040</text>
<line x1="1847.0" y1="1569" x2="1847.0" y2="1586" stroke="#000" stroke-width="5"/>
<line x1="1904.7" y1="1569" x2="1904.7" y2="1586" stroke="#000" stroke-width="5"/>
<line x1="1962.4" y1="1569" x2="1962.4" y2="1586" stroke="#000" stroke-width="5"/>
<line x1="2020.1" y1="1569" x2="2020.1" y2="1586" stroke="#000" stroke-width="5"/>
<line x1="2077.8" y1="1569" x2="2077.8" y2="1586" stroke="#000" stroke-width="5"/>
<line x1="2135.5" y1="1569" x2="2135.5" y2="1586" stroke="#000" stroke-width="5"/>
<line x1="2193.2" y1="1569" x2="2193.2" y2="1586" stroke="#000" stroke-width="5"/>
<line x1="2250.9" y1="1569" x2="2250.9" y2="1586" stroke="#000" stroke-width="5"/>
<text x="1810.0" y="1682.0" font-family="'Liberation Sans', 'IPAGothic', sans-serif" font-size="56" font-weight="normal" fill="#000" text-anchor="start" textLength="26.0" lengthAdjust="spacingAndGlyphs" >1</text>
<text x="1867.1" y="1682.0" font-family="'Liberation Sans', 'IPAGothic', sans-serif" font-size="56" font-weight="normal" fill="#000" text-anchor="start" textLength="26.0" lengthAdjust="spacingAndGlyphs" >2</text>
<text x="1924.2" y="1682.0" font-family="'Liberation Sans', 'IPAGothic', sans-serif" font-size="56" font-weight="normal" fill="#000" text-anchor="start" textLength="26.0" lengthAdjust="spacingAndGlyphs" >3</text>
<text x="1981.3" y="1682.0" font-family="'Liberation Sans', 'IPAGothic', sans-serif" font-size="56" font-weight="normal" fill="#000" text-anchor="start" textLength="26.0" lengthAdjust="spacingAndGlyphs" >4</text>
<text x="2038.4" y="1682.0" font-family="'Liberation Sans', 'IPAGothic', sans-serif" font-size="56" font-weight="normal" fill="#000" text-anchor="start" textLength="26.0" lengthAdjust="spacingAndGlyphs" >5</text>
<text x="2095.5" y="1682.0" font-family="'Liberation Sans', 'IPAGothic', sans-serif" font-size="56" font-weight="normal" fill="#000" text-anchor="start" textLength="26.0" lengthAdjust="spacingAndGlyphs" >6</text>
<text x="2152.6" y="1682.0" font-family="'Liberation Sans', 'IPAGothic', sans-serif" font-size="56" font-weight="normal" fill="#000" text-anchor="start" textLength="26.0" lengthAdjust="spacingAndGlyphs" >7</text>
<text x="2209.7" y="1682.0" font-family="'Liberation Sans', 'IPAGothic', sans-serif" font-size="56" font-weight="normal" fill="#000" text-anchor="start" textLength="26.0" lengthAdjust="spacingAndGlyphs" >8</text>
<text x="1709.0" y="1764.0" font-family="'Liberation Sans', 'IPAGothic', sans-serif" font-size="60" font-weight="normal" fill="#000" text-anchor="start" textLength="535.0" lengthAdjust="spacingAndGlyphs" >Concentration of SA (ml)</text>
<text transform="translate(1584,1198) rotate(-90)" font-family="'Liberation Sans', 'IPAGothic', sans-serif" font-size="49" fill="#000" textLength="722" lengthAdjust="spacingAndGlyphs"><tspan font-weight="bold">Peak current</tspan>（1.0×10<tspan dy="-16" font-size="34">−4</tspan><tspan dy="16">A）</tspan></text>
<line x1="1818" y1="1600" x2="2223" y2="139" stroke="#111" stroke-width="2.2"/>
<circle cx="2223" cy="141" r="4" fill="#000"/>
<ellipse cx="1821" cy="1588" rx="18.5" ry="24.5" fill="none" stroke="#1a1a1a" stroke-width="3"/>
<ellipse cx="1878" cy="1336" rx="18.5" ry="24.5" fill="none" stroke="#1a1a1a" stroke-width="3"/>
<ellipse cx="1935" cy="1192" rx="18.5" ry="24.5" fill="none" stroke="#1a1a1a" stroke-width="3"/>
<ellipse cx="1993" cy="1028" rx="18.5" ry="24.5" fill="none" stroke="#1a1a1a" stroke-width="3"/>
<ellipse cx="2050" cy="800" rx="18.5" ry="24.5" fill="none" stroke="#1a1a1a" stroke-width="3"/>
<ellipse cx="2105" cy="479" rx="18.5" ry="24.5" fill="none" stroke="#1a1a1a" stroke-width="3"/>
<ellipse cx="2163" cy="310" rx="18.5" ry="24.5" fill="none" stroke="#1a1a1a" stroke-width="3"/>
<ellipse cx="2222" cy="169" rx="18.5" ry="24.5" fill="none" stroke="#1a1a1a" stroke-width="3"/>
<text x="1823.0" y="630.0" font-family="'Liberation Sans', 'IPAGothic', sans-serif" font-size="54" font-weight="normal" fill="#000" text-anchor="start" textLength="419.0" lengthAdjust="spacingAndGlyphs" >y = 0.006x - 0.006</text>
<text x="1904" y="703" font-family="'Liberation Sans', 'IPAGothic', sans-serif" font-size="54" fill="#000" textLength="262" lengthAdjust="spacingAndGlyphs">R<tspan dy="-22" font-size="30">2</tspan><tspan dy="22"> = 0.9918</tspan></text>
<line x1="364.5" y1="2194" x2="364.5" y2="3963" stroke="#7a7a7a" stroke-width="5"/>
<line x1="349" y1="2225.0" x2="364.5" y2="2225.0" stroke="#3a3a3a" stroke-width="3.6"/>
<line x1="349" y1="2269.0" x2="364.5" y2="2269.0" stroke="#3a3a3a" stroke-width="3.6"/>
<line x1="349" y1="2313.0" x2="364.5" y2="2313.0" stroke="#3a3a3a" stroke-width="3.6"/>
<line x1="335" y1="2357.0" x2="364.5" y2="2357.0" stroke="#3a3a3a" stroke-width="3.6"/>
<line x1="349" y1="2401.0" x2="364.5" y2="2401.0" stroke="#3a3a3a" stroke-width="3.6"/>
<line x1="349" y1="2445.0" x2="364.5" y2="2445.0" stroke="#3a3a3a" stroke-width="3.6"/>
<line x1="349" y1="2489.0" x2="364.5" y2="2489.0" stroke="#3a3a3a" stroke-width="3.6"/>
<line x1="349" y1="2533.0" x2="364.5" y2="2533.0" stroke="#3a3a3a" stroke-width="3.6"/>
<line x1="335" y1="2577.0" x2="364.5" y2="2577.0" stroke="#3a3a3a" stroke-width="3.6"/>
<line x1="349" y1="2621.0" x2="364.5" y2="2621.0" stroke="#3a3a3a" stroke-width="3.6"/>
<line x1="349" y1="2665.0" x2="364.5" y2="2665.0" stroke="#3a3a3a" stroke-width="3.6"/>
<line x1="349" y1="2709.0" x2="364.5" y2="2709.0" stroke="#3a3a3a" stroke-width="3.6"/>
<line x1="349" y1="2753.0" x2="364.5" y2="2753.0" stroke="#3a3a3a" stroke-width="3.6"/>
<line x1="335" y1="2797.0" x2="364.5" y2="2797.0" stroke="#3a3a3a" stroke-width="3.6"/>
<line x1="349" y1="2841.0" x2="364.5" y2="2841.0" stroke="#3a3a3a" stroke-width="3.6"/>
<line x1="349" y1="2885.0" x2="364.5" y2="2885.0" stroke="#3a3a3a" stroke-width="3.6"/>
<line x1="349" y1="2929.0" x2="364.5" y2="2929.0" stroke="#3a3a3a" stroke-width="3.6"/>
<line x1="349" y1="2973.0" x2="364.5" y2="2973.0" stroke="#3a3a3a" stroke-width="3.6"/>
<line x1="335" y1="3017.0" x2="364.5" y2="3017.0" stroke="#3a3a3a" stroke-width="3.6"/>
<line x1="349" y1="3061.0" x2="364.5" y2="3061.0" stroke="#3a3a3a" stroke-width="3.6"/>
<line x1="349" y1="3105.0" x2="364.5" y2="3105.0" stroke="#3a3a3a" stroke-width="3.6"/>
<line x1="349" y1="3149.0" x2="364.5" y2="3149.0" stroke="#3a3a3a" stroke-width="3.6"/>
<line x1="349" y1="3193.0" x2="364.5" y2="3193.0" stroke="#3a3a3a" stroke-width="3.6"/>
<line x1="335" y1="3237.0" x2="364.5" y2="3237.0" stroke="#3a3a3a" stroke-width="3.6"/>
<line x1="349" y1="3281.0" x2="364.5" y2="3281.0" stroke="#3a3a3a" stroke-width="3.6"/>
<line x1="349" y1="3325.0" x2="364.5" y2="3325.0" stroke="#3a3a3a" stroke-width="3.6"/>
<line x1="349" y1="3369.0" x2="364.5" y2="3369.0" stroke="#3a3a3a" stroke-width="3.6"/>
<line x1="349" y1="3413.0" x2="364.5" y2="3413.0" stroke="#3a3a3a" stroke-width="3.6"/>
<line x1="335" y1="3457.0" x2="364.5" y2="3457.0" stroke="#3a3a3a" stroke-width="3.6"/>
<line x1="349" y1="3501.0" x2="364.5" y2="3501.0" stroke="#3a3a3a" stroke-width="3.6"/>
<line x1="349" y1="3545.0" x2="364.5" y2="3545.0" stroke="#3a3a3a" stroke-width="3.6"/>
<line x1="349" y1="3589.0" x2="364.5" y2="3589.0" stroke="#3a3a3a" stroke-width="3.6"/>
<line x1="349" y1="3633.0" x2="364.5" y2="3633.0" stroke="#3a3a3a" stroke-width="3.6"/>
<line x1="335" y1="3677.0" x2="364.5" y2="3677.0" stroke="#3a3a3a" stroke-width="3.6"/>
<line x1="349" y1="3721.0" x2="364.5" y2="3721.0" stroke="#3a3a3a" stroke-width="3.6"/>
<line x1="349" y1="3765.0" x2="364.5" y2="3765.0" stroke="#3a3a3a" stroke-width="3.6"/>
<line x1="349" y1="3809.0" x2="364.5" y2="3809.0" stroke="#3a3a3a" stroke-width="3.6"/>
<line x1="349" y1="3853.0" x2="364.5" y2="3853.0" stroke="#3a3a3a" stroke-width="3.6"/>
<line x1="335" y1="3897.0" x2="364.5" y2="3897.0" stroke="#3a3a3a" stroke-width="3.6"/>
<line x1="349" y1="3941.0" x2="364.5" y2="3941.0" stroke="#3a3a3a" stroke-width="3.6"/>
<text x="224.0" y="2385.7" font-family="'Liberation Sans', Arial, sans-serif" font-size="80" font-weight="normal" fill="#000" text-anchor="start" textLength="119.0" lengthAdjust="spacingAndGlyphs" >-0.1</text>
<text x="224.0" y="2605.7" font-family="'Liberation Sans', Arial, sans-serif" font-size="80" font-weight="normal" fill="#000" text-anchor="start" textLength="119.0" lengthAdjust="spacingAndGlyphs" >-0.2</text>
<text x="224.0" y="2825.7" font-family="'Liberation Sans', Arial, sans-serif" font-size="80" font-weight="normal" fill="#000" text-anchor="start" textLength="119.0" lengthAdjust="spacingAndGlyphs" >-0.3</text>
<text x="224.0" y="3045.7" font-family="'Liberation Sans', Arial, sans-serif" font-size="80" font-weight="normal" fill="#000" text-anchor="start" textLength="119.0" lengthAdjust="spacingAndGlyphs" >-0.4</text>
<text x="224.0" y="3265.7" font-family="'Liberation Sans', Arial, sans-serif" font-size="80" font-weight="normal" fill="#000" text-anchor="start" textLength="119.0" lengthAdjust="spacingAndGlyphs" >-0.5</text>
<text x="224.0" y="3485.7" font-family="'Liberation Sans', Arial, sans-serif" font-size="80" font-weight="normal" fill="#000" text-anchor="start" textLength="119.0" lengthAdjust="spacingAndGlyphs" >-0.6</text>
<text x="224.0" y="3705.7" font-family="'Liberation Sans', Arial, sans-serif" font-size="80" font-weight="normal" fill="#000" text-anchor="start" textLength="119.0" lengthAdjust="spacingAndGlyphs" >-0.7</text>
<text x="224.0" y="3925.7" font-family="'Liberation Sans', Arial, sans-serif" font-size="80" font-weight="normal" fill="#000" text-anchor="start" textLength="119.0" lengthAdjust="spacingAndGlyphs" >-0.8</text>
<line x1="362" y1="3961" x2="2240" y2="3961" stroke="#3c3c3c" stroke-width="4"/>
<line x1="373.0" y1="3967" x2="373.0" y2="3977" stroke="#3c3c3c" stroke-width="3"/>
<line x1="411.0" y1="3967" x2="411.0" y2="3993" stroke="#3c3c3c" stroke-width="3"/>
<line x1="449.0" y1="3967" x2="449.0" y2="3977" stroke="#3c3c3c" stroke-width="3"/>
<line x1="486.9" y1="3967" x2="486.9" y2="3977" stroke="#3c3c3c" stroke-width="3"/>
<line x1="524.9" y1="3967" x2="524.9" y2="3977" stroke="#3c3c3c" stroke-width="3"/>
<line x1="562.9" y1="3967" x2="562.9" y2="3993" stroke="#3c3c3c" stroke-width="3"/>
<line x1="600.9" y1="3967" x2="600.9" y2="3977" stroke="#3c3c3c" stroke-width="3"/>
<line x1="638.9" y1="3967" x2="638.9" y2="3977" stroke="#3c3c3c" stroke-width="3"/>
<line x1="676.8" y1="3967" x2="676.8" y2="3977" stroke="#3c3c3c" stroke-width="3"/>
<line x1="714.8" y1="3967" x2="714.8" y2="3993" stroke="#3c3c3c" stroke-width="3"/>
<line x1="752.8" y1="3967" x2="752.8" y2="3977" stroke="#3c3c3c" stroke-width="3"/>
<line x1="790.8" y1="3967" x2="790.8" y2="3977" stroke="#3c3c3c" stroke-width="3"/>
<line x1="828.7" y1="3967" x2="828.7" y2="3977" stroke="#3c3c3c" stroke-width="3"/>
<line x1="866.7" y1="3967" x2="866.7" y2="3993" stroke="#3c3c3c" stroke-width="3"/>
<line x1="904.7" y1="3967" x2="904.7" y2="3977" stroke="#3c3c3c" stroke-width="3"/>
<line x1="942.6" y1="3967" x2="942.6" y2="3977" stroke="#3c3c3c" stroke-width="3"/>
<line x1="980.6" y1="3967" x2="980.6" y2="3977" stroke="#3c3c3c" stroke-width="3"/>
<line x1="1018.6" y1="3967" x2="1018.6" y2="3993" stroke="#3c3c3c" stroke-width="3"/>
<line x1="1056.6" y1="3967" x2="1056.6" y2="3977" stroke="#3c3c3c" stroke-width="3"/>
<line x1="1094.6" y1="3967" x2="1094.6" y2="3977" stroke="#3c3c3c" stroke-width="3"/>
<line x1="1132.5" y1="3967" x2="1132.5" y2="3977" stroke="#3c3c3c" stroke-width="3"/>
<line x1="1170.5" y1="3967" x2="1170.5" y2="3993" stroke="#3c3c3c" stroke-width="3"/>
<line x1="1208.5" y1="3967" x2="1208.5" y2="3977" stroke="#3c3c3c" stroke-width="3"/>
<line x1="1246.5" y1="3967" x2="1246.5" y2="3977" stroke="#3c3c3c" stroke-width="3"/>
<line x1="1284.4" y1="3967" x2="1284.4" y2="3977" stroke="#3c3c3c" stroke-width="3"/>
<line x1="1322.4" y1="3967" x2="1322.4" y2="3993" stroke="#3c3c3c" stroke-width="3"/>
<line x1="1360.4" y1="3967" x2="1360.4" y2="3977" stroke="#3c3c3c" stroke-width="3"/>
<line x1="1398.3" y1="3967" x2="1398.3" y2="3977" stroke="#3c3c3c" stroke-width="3"/>
<line x1="1436.3" y1="3967" x2="1436.3" y2="3977" stroke="#3c3c3c" stroke-width="3"/>
<line x1="1474.3" y1="3967" x2="1474.3" y2="3993" stroke="#3c3c3c" stroke-width="3"/>
<line x1="1512.3" y1="3967" x2="1512.3" y2="3977" stroke="#3c3c3c" stroke-width="3"/>
<line x1="1550.2" y1="3967" x2="1550.2" y2="3977" stroke="#3c3c3c" stroke-width="3"/>
<line x1="1588.2" y1="3967" x2="1588.2" y2="3977" stroke="#3c3c3c" stroke-width="3"/>
<line x1="1626.2" y1="3967" x2="1626.2" y2="3993" stroke="#3c3c3c" stroke-width="3"/>
<line x1="1664.2" y1="3967" x2="1664.2" y2="3977" stroke="#3c3c3c" stroke-width="3"/>
<line x1="1702.2" y1="3967" x2="1702.2" y2="3977" stroke="#3c3c3c" stroke-width="3"/>
<line x1="1740.1" y1="3967" x2="1740.1" y2="3977" stroke="#3c3c3c" stroke-width="3"/>
<line x1="1778.1" y1="3967" x2="1778.1" y2="3993" stroke="#3c3c3c" stroke-width="3"/>
<line x1="1816.1" y1="3967" x2="1816.1" y2="3977" stroke="#3c3c3c" stroke-width="3"/>
<line x1="1854.0" y1="3967" x2="1854.0" y2="3977" stroke="#3c3c3c" stroke-width="3"/>
<line x1="1892.0" y1="3967" x2="1892.0" y2="3977" stroke="#3c3c3c" stroke-width="3"/>
<line x1="1930.0" y1="3967" x2="1930.0" y2="3993" stroke="#3c3c3c" stroke-width="3"/>
<line x1="1968.0" y1="3967" x2="1968.0" y2="3977" stroke="#3c3c3c" stroke-width="3"/>
<line x1="2006.0" y1="3967" x2="2006.0" y2="3977" stroke="#3c3c3c" stroke-width="3"/>
<line x1="2043.9" y1="3967" x2="2043.9" y2="3977" stroke="#3c3c3c" stroke-width="3"/>
<line x1="2081.9" y1="3967" x2="2081.9" y2="3993" stroke="#3c3c3c" stroke-width="3"/>
<line x1="2119.9" y1="3967" x2="2119.9" y2="3977" stroke="#3c3c3c" stroke-width="3"/>
<line x1="2157.9" y1="3967" x2="2157.9" y2="3977" stroke="#3c3c3c" stroke-width="3"/>
<line x1="2195.8" y1="3967" x2="2195.8" y2="3977" stroke="#3c3c3c" stroke-width="3"/>
<line x1="2233.8" y1="3967" x2="2233.8" y2="3993" stroke="#3c3c3c" stroke-width="3"/>
<text x="368.0" y="4057.0" font-family="'Liberation Sans', Arial, sans-serif" font-size="80" font-weight="normal" fill="#000" text-anchor="start" textLength="92.0" lengthAdjust="spacingAndGlyphs" >1.4</text>
<text x="519.9" y="4057.0" font-family="'Liberation Sans', Arial, sans-serif" font-size="80" font-weight="normal" fill="#000" text-anchor="start" textLength="92.0" lengthAdjust="spacingAndGlyphs" >1.2</text>
<text x="671.8" y="4057.0" font-family="'Liberation Sans', Arial, sans-serif" font-size="80" font-weight="normal" fill="#000" text-anchor="start" textLength="92.0" lengthAdjust="spacingAndGlyphs" >1.0</text>
<text x="820.7" y="4057.0" font-family="'Liberation Sans', Arial, sans-serif" font-size="80" font-weight="normal" fill="#000" text-anchor="start" textLength="92.0" lengthAdjust="spacingAndGlyphs" >0.8</text>
<text x="972.6" y="4057.0" font-family="'Liberation Sans', Arial, sans-serif" font-size="80" font-weight="normal" fill="#000" text-anchor="start" textLength="92.0" lengthAdjust="spacingAndGlyphs" >0.6</text>
<text x="1124.5" y="4057.0" font-family="'Liberation Sans', Arial, sans-serif" font-size="80" font-weight="normal" fill="#000" text-anchor="start" textLength="92.0" lengthAdjust="spacingAndGlyphs" >0.4</text>
<text x="1276.4" y="4057.0" font-family="'Liberation Sans', Arial, sans-serif" font-size="80" font-weight="normal" fill="#000" text-anchor="start" textLength="92.0" lengthAdjust="spacingAndGlyphs" >0.2</text>
<text x="1414.8" y="4057.0" font-family="'Liberation Sans', Arial, sans-serif" font-size="80" font-weight="normal" fill="#000" text-anchor="start" textLength="119.0" lengthAdjust="spacingAndGlyphs" >-0.0</text>
<text x="1566.7" y="4057.0" font-family="'Liberation Sans', Arial, sans-serif" font-size="80" font-weight="normal" fill="#000" text-anchor="start" textLength="119.0" lengthAdjust="spacingAndGlyphs" >-0.2</text>
<text x="1718.6" y="4057.0" font-family="'Liberation Sans', Arial, sans-serif" font-size="80" font-weight="normal" fill="#000" text-anchor="start" textLength="119.0" lengthAdjust="spacingAndGlyphs" >-0.4</text>
<text x="1870.5" y="4057.0" font-family="'Liberation Sans', Arial, sans-serif" font-size="80" font-weight="normal" fill="#000" text-anchor="start" textLength="119.0" lengthAdjust="spacingAndGlyphs" >-0.6</text>
<text x="2022.4" y="4057.0" font-family="'Liberation Sans', Arial, sans-serif" font-size="80" font-weight="normal" fill="#000" text-anchor="start" textLength="119.0" lengthAdjust="spacingAndGlyphs" >-0.8</text>
<text x="2174.3" y="4057.0" font-family="'Liberation Sans', Arial, sans-serif" font-size="80" font-weight="normal" fill="#000" text-anchor="start" textLength="119.0" lengthAdjust="spacingAndGlyphs" >-1.0</text>
<text x="986.0" y="4203.0" font-family="'Liberation Serif', 'Times New Roman', serif" font-size="140" font-weight="normal" fill="#6c6c6c" text-anchor="start" textLength="634.0" lengthAdjust="spacing" >Potential /V</text>
<text transform="translate(152,3539) rotate(-90)" x="0" y="0" font-family="'Liberation Serif', 'Times New Roman', serif" font-size="121" fill="#6c6c6c" textLength="962" lengthAdjust="spacing">Current / 1e-5 A</text>
<text x="1127" y="4307" font-family="'Liberation Serif', 'Times New Roman', serif" font-size="86" fill="#000" textLength="108" lengthAdjust="spacingAndGlyphs">(<tspan font-weight="bold">B</tspan>)</text>
<path d="M528.0,3961.0 C529.2,3949.0 532.2,3915.8 535.0,3889.0 C537.8,3862.2 541.7,3831.8 545.0,3800.0 C548.3,3768.2 551.5,3732.2 555.0,3698.0 C558.5,3663.8 562.5,3627.0 566.0,3595.0 C569.5,3563.0 572.7,3534.5 576.0,3506.0 C579.3,3477.5 582.7,3452.5 586.0,3424.0 C589.3,3395.5 592.0,3363.5 596.0,3335.0 C600.0,3306.5 605.3,3281.7 610.0,3253.0 C614.7,3224.3 620.5,3188.2 624.0,3163.0 C627.5,3137.8 628.2,3123.7 631.0,3102.0 C633.8,3080.3 637.7,3053.5 641.0,3033.0 C644.3,3012.5 647.7,2997.2 651.0,2979.0 C654.3,2960.8 657.0,2941.2 661.0,2924.0 C665.0,2906.8 669.8,2890.8 675.0,2876.0 C680.2,2861.2 684.5,2848.7 692.0,2835.0 C699.5,2821.3 712.0,2807.7 720.0,2794.0 C728.0,2780.3 733.2,2765.7 740.0,2753.0 C746.8,2740.3 753.5,2735.2 761.0,2718.0 C768.5,2700.8 778.2,2668.0 785.0,2650.0 C791.8,2632.0 795.2,2631.3 802.0,2610.0 C808.8,2588.7 819.3,2544.5 826.0,2522.0 C832.7,2499.5 835.3,2488.2 842.0,2475.0 C848.7,2461.8 858.2,2451.7 866.0,2443.0 C873.8,2434.3 881.2,2427.7 889.0,2423.0 C896.8,2418.3 903.7,2419.5 913.0,2415.0 C922.3,2410.5 934.3,2396.0 945.0,2396.0 C955.7,2396.0 967.2,2407.8 977.0,2415.0 C986.8,2422.2 996.2,2439.0 1004.0,2439.0 C1011.8,2439.0 1015.3,2423.5 1024.0,2415.0 C1032.7,2406.5 1045.3,2397.2 1056.0,2388.0 C1066.7,2378.8 1076.8,2372.0 1088.0,2360.0 C1099.2,2348.0 1113.8,2327.2 1123.0,2316.0 C1132.2,2304.8 1135.7,2296.2 1143.0,2293.0 C1150.3,2289.8 1159.7,2297.7 1167.0,2297.0 C1174.3,2296.3 1179.8,2293.7 1187.0,2289.0 C1194.2,2284.3 1192.0,2272.3 1210.0,2269.0 C1228.0,2265.7 1278.2,2269.7 1295.0,2269.0 C1311.8,2268.3 1304.3,2264.8 1311.0,2265.0 C1317.7,2265.2 1325.8,2268.7 1335.0,2270.0 C1344.2,2271.3 1358.2,2273.8 1366.0,2273.0 C1373.8,2272.2 1375.3,2269.8 1382.0,2265.0 C1388.7,2260.2 1398.7,2247.3 1406.0,2244.0 C1413.3,2240.7 1410.2,2244.5 1426.0,2245.0 C1441.8,2245.5 1485.8,2246.3 1501.0,2247.0 C1516.2,2247.7 1510.3,2245.0 1517.0,2249.0 C1523.7,2253.0 1531.8,2268.0 1541.0,2271.0 C1550.2,2274.0 1562.8,2267.3 1572.0,2267.0 C1581.2,2266.7 1588.0,2269.2 1596.0,2269.0 C1604.0,2268.8 1612.0,2264.5 1620.0,2266.0 C1628.0,2267.5 1636.0,2273.5 1644.0,2278.0 C1652.0,2282.5 1646.8,2290.5 1668.0,2293.0 C1689.2,2295.5 1748.7,2290.5 1771.0,2293.0 C1793.3,2295.5 1784.8,2305.2 1802.0,2308.0 C1819.2,2310.8 1858.2,2306.2 1874.0,2310.0 C1889.8,2313.8 1890.5,2328.7 1897.0,2331.0 C1903.5,2333.3 1907.7,2324.5 1913.0,2324.0 C1918.3,2323.5 1923.7,2324.2 1929.0,2328.0 C1934.3,2331.8 1938.3,2343.8 1945.0,2347.0 C1951.7,2350.2 1959.8,2345.5 1969.0,2347.0 C1978.2,2348.5 1989.5,2352.5 2000.0,2356.0 C2010.5,2359.5 2021.3,2363.3 2032.0,2368.0 C2042.7,2372.7 2056.0,2378.3 2064.0,2384.0 C2072.0,2389.7 2072.2,2397.0 2080.0,2402.0 C2087.8,2407.0 2099.2,2403.8 2111.0,2414.0 C2122.8,2424.2 2137.8,2447.5 2151.0,2463.0 C2164.2,2478.5 2179.5,2493.8 2190.0,2507.0 C2200.5,2520.2 2207.3,2531.5 2214.0,2542.0 C2220.7,2552.5 2226.0,2562.7 2230.0,2570.0 C2234.0,2577.3 2236.7,2583.3 2238.0,2586.0" fill="none" stroke="#333" stroke-width="2.5" stroke-linejoin="round" stroke-linecap="round"/>
<path d="M687.0,3961.0 C688.5,3951.3 692.8,3924.2 696.0,3903.0 C699.2,3881.8 701.5,3862.5 706.0,3834.0 C710.5,3805.5 717.3,3766.2 723.0,3732.0 C728.7,3697.8 734.8,3663.3 740.0,3629.0 C745.2,3594.7 749.3,3558.0 754.0,3526.0 C758.7,3494.0 763.5,3465.5 768.0,3437.0 C772.5,3408.5 776.5,3380.0 781.0,3355.0 C785.5,3330.0 791.0,3304.5 795.0,3287.0 C799.0,3269.5 801.7,3261.5 805.0,3250.0 C808.3,3238.5 812.2,3227.8 815.0,3218.0 C817.8,3208.2 817.3,3204.7 822.0,3191.0 C826.7,3177.3 835.0,3153.2 843.0,3136.0 C851.0,3118.8 860.8,3101.7 870.0,3088.0 C879.2,3074.3 890.0,3064.8 898.0,3054.0 C906.0,3043.2 910.2,3031.5 918.0,3023.0 C925.8,3014.5 937.0,3007.5 945.0,3003.0 C953.0,2998.5 955.7,3001.2 966.0,2996.0 C976.3,2990.8 995.7,2984.0 1007.0,2972.0 C1018.3,2960.0 1026.0,2937.7 1034.0,2924.0 C1042.0,2910.3 1048.2,2899.2 1055.0,2890.0 C1061.8,2880.8 1067.0,2877.0 1075.0,2869.0 C1083.0,2861.0 1092.7,2851.2 1103.0,2842.0 C1113.3,2832.8 1129.2,2818.3 1137.0,2814.0 C1144.8,2809.7 1142.3,2816.0 1150.0,2816.0 C1157.7,2816.0 1172.0,2814.0 1183.0,2814.0 C1194.0,2814.0 1206.3,2813.7 1216.0,2816.0 C1225.7,2818.3 1232.7,2822.5 1241.0,2828.0 C1249.3,2833.5 1257.7,2841.3 1266.0,2849.0 C1274.3,2856.7 1283.3,2866.5 1291.0,2874.0 C1298.7,2881.5 1305.2,2895.5 1312.0,2894.0 C1318.8,2892.5 1325.2,2874.7 1332.0,2865.0 C1338.8,2855.3 1346.7,2844.2 1353.0,2836.0 C1359.3,2827.8 1363.8,2819.0 1370.0,2816.0 C1376.2,2813.0 1382.5,2813.8 1390.0,2818.0 C1397.5,2822.2 1405.3,2836.5 1415.0,2841.0 C1424.7,2845.5 1439.7,2842.3 1448.0,2845.0 C1456.3,2847.7 1458.0,2853.8 1465.0,2857.0 C1472.0,2860.2 1481.7,2859.8 1490.0,2864.0 C1498.3,2868.2 1505.3,2879.3 1515.0,2882.0 C1524.7,2884.7 1537.0,2880.3 1548.0,2880.0 C1559.0,2879.7 1568.7,2879.7 1581.0,2880.0 C1593.3,2880.3 1611.0,2884.2 1622.0,2882.0 C1633.0,2879.8 1637.3,2870.8 1647.0,2867.0 C1656.7,2863.2 1669.0,2862.3 1680.0,2859.0 C1691.0,2855.7 1704.7,2850.8 1713.0,2847.0 C1721.3,2843.2 1721.7,2843.3 1730.0,2836.0 C1738.3,2828.7 1753.3,2809.8 1763.0,2803.0 C1772.7,2796.2 1779.7,2801.2 1788.0,2795.0 C1796.3,2788.8 1803.3,2772.5 1813.0,2766.0 C1822.7,2759.5 1835.0,2759.8 1846.0,2756.0 C1857.0,2752.2 1868.0,2747.2 1879.0,2743.0 C1890.0,2738.8 1903.7,2734.5 1912.0,2731.0 C1920.3,2727.5 1920.8,2722.5 1929.0,2722.0 C1937.2,2721.5 1953.0,2728.8 1961.0,2728.0 C1969.0,2727.2 1968.5,2718.5 1977.0,2717.0 C1985.5,2715.5 2002.0,2717.7 2012.0,2719.0 C2022.0,2720.3 2028.8,2722.3 2037.0,2725.0 C2045.2,2727.7 2051.5,2732.3 2061.0,2735.0 C2070.5,2737.7 2080.2,2733.3 2094.0,2741.0 C2107.8,2748.7 2127.3,2769.2 2144.0,2781.0 C2160.7,2792.8 2178.8,2801.0 2194.0,2812.0 C2209.2,2823.0 2228.2,2841.2 2235.0,2847.0" fill="none" stroke="#333" stroke-width="2.5" stroke-linejoin="round" stroke-linecap="round"/>
<path d="M774.0,3961.0 C776.3,3949.0 783.3,3910.2 788.0,3889.0 C792.7,3867.8 797.5,3852.2 802.0,3834.0 C806.5,3815.8 810.5,3795.8 815.0,3780.0 C819.5,3764.2 824.3,3752.7 829.0,3739.0 C833.7,3725.3 837.3,3710.7 843.0,3698.0 C848.7,3685.3 856.2,3674.5 863.0,3663.0 C869.8,3651.5 876.0,3639.2 884.0,3629.0 C892.0,3618.8 901.8,3610.5 911.0,3602.0 C920.2,3593.5 932.2,3584.8 939.0,3578.0 C945.8,3571.2 945.2,3569.7 952.0,3561.0 C958.8,3552.3 973.2,3535.2 980.0,3526.0 C986.8,3516.8 988.5,3516.2 993.0,3506.0 C997.5,3495.8 1002.3,3478.7 1007.0,3465.0 C1011.7,3451.3 1016.5,3438.8 1021.0,3424.0 C1025.5,3409.2 1029.5,3389.7 1034.0,3376.0 C1038.5,3362.3 1042.2,3352.3 1048.0,3342.0 C1053.8,3331.7 1062.2,3321.5 1069.0,3314.0 C1075.8,3306.5 1082.2,3301.5 1089.0,3297.0 C1095.8,3292.5 1104.3,3292.2 1110.0,3287.0 C1115.7,3281.8 1117.3,3271.5 1123.0,3266.0 C1128.7,3260.5 1136.0,3256.2 1144.0,3254.0 C1152.0,3251.8 1160.7,3251.0 1171.0,3253.0 C1181.3,3255.0 1195.7,3261.0 1206.0,3266.0 C1216.3,3271.0 1224.0,3273.8 1233.0,3283.0 C1242.0,3292.2 1252.7,3311.8 1260.0,3321.0 C1267.3,3330.2 1273.2,3335.0 1277.0,3338.0 C1280.8,3341.0 1279.3,3340.0 1283.0,3339.0 C1286.7,3338.0 1293.5,3338.7 1299.0,3332.0 C1304.5,3325.3 1310.5,3310.0 1316.0,3299.0 C1321.5,3288.0 1323.8,3272.8 1332.0,3266.0 C1340.2,3259.2 1355.3,3257.3 1365.0,3258.0 C1374.7,3258.7 1381.7,3264.5 1390.0,3270.0 C1398.3,3275.5 1406.7,3285.5 1415.0,3291.0 C1423.3,3296.5 1431.7,3297.5 1440.0,3303.0 C1448.3,3308.5 1456.7,3317.0 1465.0,3324.0 C1473.3,3331.0 1477.7,3339.2 1490.0,3345.0 C1502.3,3350.8 1523.8,3357.0 1539.0,3359.0 C1554.2,3361.0 1568.5,3358.5 1581.0,3357.0 C1593.5,3355.5 1603.0,3352.5 1614.0,3350.0 C1625.0,3347.5 1637.3,3345.7 1647.0,3342.0 C1656.7,3338.3 1663.7,3335.2 1672.0,3328.0 C1680.3,3320.8 1687.3,3306.5 1697.0,3299.0 C1706.7,3291.5 1720.3,3292.7 1730.0,3283.0 C1739.7,3273.3 1745.3,3250.7 1755.0,3241.0 C1764.7,3231.3 1778.3,3232.5 1788.0,3225.0 C1797.7,3217.5 1804.7,3202.7 1813.0,3196.0 C1821.3,3189.3 1829.7,3185.8 1838.0,3185.0 C1846.3,3184.2 1853.3,3192.7 1863.0,3191.0 C1872.7,3189.3 1885.0,3178.0 1896.0,3175.0 C1907.0,3172.0 1918.0,3171.7 1929.0,3173.0 C1940.0,3174.3 1951.7,3181.0 1962.0,3183.0 C1972.3,3185.0 1981.3,3180.8 1991.0,3185.0 C2000.7,3189.2 2011.0,3200.0 2020.0,3208.0 C2029.0,3216.0 2038.2,3222.7 2045.0,3233.0 C2051.8,3243.3 2054.2,3263.2 2061.0,3270.0 C2067.8,3276.8 2077.7,3269.2 2086.0,3274.0 C2094.3,3278.8 2102.7,3285.2 2111.0,3299.0 C2119.3,3312.8 2127.7,3339.0 2136.0,3357.0 C2144.3,3375.0 2152.7,3392.5 2161.0,3407.0 C2169.3,3421.5 2177.8,3433.7 2186.0,3444.0 C2194.2,3454.3 2201.8,3458.7 2210.0,3469.0 C2218.2,3479.3 2230.8,3499.8 2235.0,3506.0" fill="none" stroke="#333" stroke-width="2.5" stroke-linejoin="round" stroke-linecap="round"/>
<path d="M904.0,3961.0 C905.2,3957.0 907.5,3946.7 911.0,3937.0 C914.5,3927.3 919.3,3913.2 925.0,3903.0 C930.7,3892.8 938.2,3886.3 945.0,3876.0 C951.8,3865.7 960.2,3849.0 966.0,3841.0 C971.8,3833.0 974.3,3838.2 980.0,3828.0 C985.7,3817.8 993.2,3794.8 1000.0,3780.0 C1006.8,3765.2 1014.2,3753.8 1021.0,3739.0 C1027.8,3724.2 1034.2,3705.8 1041.0,3691.0 C1047.8,3676.2 1056.2,3658.7 1062.0,3650.0 C1067.8,3641.3 1070.3,3641.2 1076.0,3639.0 C1081.7,3636.8 1090.3,3638.7 1096.0,3637.0 C1101.7,3635.3 1104.3,3633.7 1110.0,3629.0 C1115.7,3624.3 1123.8,3614.2 1130.0,3609.0 C1136.2,3603.8 1140.2,3597.0 1147.0,3598.0 C1153.8,3599.0 1163.5,3609.2 1171.0,3615.0 C1178.5,3620.8 1185.2,3628.3 1192.0,3633.0 C1198.8,3637.7 1205.2,3635.7 1212.0,3643.0 C1218.8,3650.3 1225.3,3662.5 1233.0,3677.0 C1240.7,3691.5 1251.2,3714.3 1258.0,3730.0 C1264.8,3745.7 1270.2,3763.3 1274.0,3771.0 C1277.8,3778.7 1278.8,3775.3 1281.0,3776.0 C1283.2,3776.7 1284.0,3778.5 1287.0,3775.0 C1290.0,3771.5 1294.2,3765.3 1299.0,3755.0 C1303.8,3744.7 1309.0,3723.8 1316.0,3713.0 C1323.0,3702.2 1332.8,3692.0 1341.0,3690.0 C1349.2,3688.0 1356.8,3694.3 1365.0,3701.0 C1373.2,3707.7 1381.7,3718.3 1390.0,3730.0 C1398.3,3741.7 1405.3,3757.2 1415.0,3771.0 C1424.7,3784.8 1437.0,3797.7 1448.0,3813.0 C1459.0,3828.3 1469.8,3848.5 1481.0,3863.0 C1492.2,3877.5 1505.3,3891.8 1515.0,3900.0 C1524.7,3908.2 1530.8,3910.0 1539.0,3912.0 C1547.2,3914.0 1554.3,3912.7 1564.0,3912.0 C1573.7,3911.3 1587.3,3910.0 1597.0,3908.0 C1606.7,3906.0 1613.7,3906.2 1622.0,3900.0 C1630.3,3893.8 1637.3,3881.3 1647.0,3871.0 C1656.7,3860.7 1669.0,3849.8 1680.0,3838.0 C1691.0,3826.2 1704.7,3813.8 1713.0,3800.0 C1721.3,3786.2 1723.0,3769.5 1730.0,3755.0 C1737.0,3740.5 1746.7,3726.8 1755.0,3713.0 C1763.3,3699.2 1770.3,3686.5 1780.0,3672.0 C1789.7,3657.5 1802.0,3635.0 1813.0,3626.0 C1824.0,3617.0 1837.7,3620.7 1846.0,3618.0 C1854.3,3615.3 1854.7,3617.5 1863.0,3610.0 C1871.3,3602.5 1885.0,3582.7 1896.0,3573.0 C1907.0,3563.3 1918.0,3559.0 1929.0,3552.0 C1940.0,3545.0 1951.0,3537.2 1962.0,3531.0 C1973.0,3524.8 1984.0,3519.8 1995.0,3515.0 C2006.0,3510.2 2019.7,3503.5 2028.0,3502.0 C2036.3,3500.5 2039.5,3503.2 2045.0,3506.0 C2050.5,3508.8 2056.8,3520.3 2061.0,3519.0 C2065.2,3517.7 2065.8,3504.3 2070.0,3498.0 C2074.2,3491.7 2079.2,3482.3 2086.0,3481.0 C2092.8,3479.7 2101.3,3486.5 2111.0,3490.0 C2120.7,3493.5 2133.0,3500.0 2144.0,3502.0 C2155.0,3504.0 2166.0,3503.8 2177.0,3502.0 C2188.0,3500.2 2201.7,3492.3 2210.0,3491.0 C2218.3,3489.7 2222.0,3491.2 2227.0,3494.0 C2232.0,3496.8 2237.8,3505.7 2240.0,3508.0" fill="none" stroke="#333" stroke-width="2.5" stroke-linejoin="round" stroke-linecap="round"/>
<use href="#cell" transform="translate(1053,2512) scale(0.540)"/>
<use href="#cell" transform="translate(1292,2994) scale(0.570)"/>
<use href="#cell" transform="translate(1357,2971) scale(0.460)"/>
<use href="#cell" transform="translate(1236,3412) scale(0.370)"/>
<use href="#cell" transform="translate(1238,3498) scale(0.430)"/>
<use href="#cell" transform="translate(1329,3442) scale(0.480)"/>
<use href="#cell" transform="translate(1228,3855) scale(0.420)"/>
<use href="#cell" transform="translate(1313,3873) scale(0.310)"/>
<use href="#cell" transform="translate(1329,3820) scale(0.360)"/>
<use href="#cell" transform="translate(1236,3904) scale(0.460)"/>
<use href="#cell" transform="translate(1359,3914) scale(0.400)"/>
</svg></body></html>
